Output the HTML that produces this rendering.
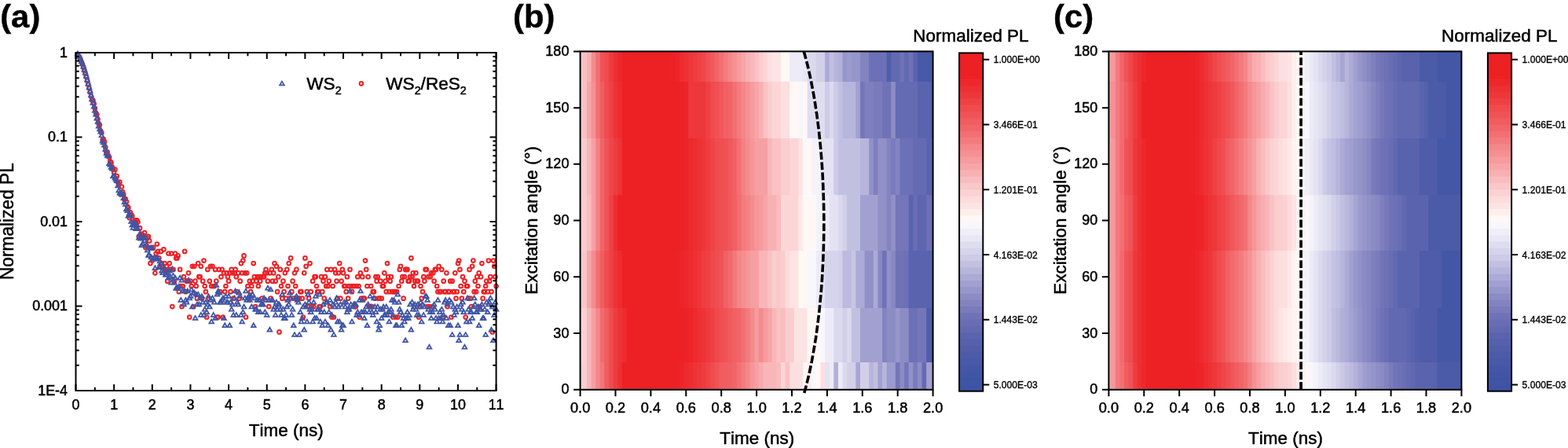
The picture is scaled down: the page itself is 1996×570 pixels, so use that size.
<!DOCTYPE html>
<html lang="en"><head><meta charset="utf-8"><title>Figure</title>
<style>html,body{margin:0;padding:0;background:#fff}body{width:1996px;height:570px;overflow:hidden}svg{display:block}text{font-family:"Liberation Sans", sans-serif;fill:#000;font-kerning:none}</style>
</head><body>
<svg width="1996" height="570" viewBox="0 0 1996 570">
<rect width="1996" height="570" fill="#fff"/>
<g id="panel-a"><g fill="none" stroke="#ed2024" stroke-width="2">
<circle cx="98.9" cy="69.4" r="2.35"/>
<circle cx="100.1" cy="71.3" r="2.35"/>
<circle cx="101.4" cy="73.2" r="2.35"/>
<circle cx="102.6" cy="76.1" r="2.35"/>
<circle cx="103.8" cy="79.1" r="2.35"/>
<circle cx="105.0" cy="82.0" r="2.35"/>
<circle cx="106.2" cy="85.7" r="2.35"/>
<circle cx="107.4" cy="89.7" r="2.35"/>
<circle cx="108.7" cy="93.7" r="2.35"/>
<circle cx="109.9" cy="97.9" r="2.35"/>
<circle cx="111.1" cy="102.7" r="2.35"/>
<circle cx="112.3" cy="107.5" r="2.35"/>
<circle cx="113.5" cy="112.3" r="2.35"/>
<circle cx="114.7" cy="117.2" r="2.35"/>
<circle cx="116.0" cy="122.7" r="2.35"/>
<circle cx="117.2" cy="127.6" r="2.35"/>
<circle cx="118.4" cy="127.7" r="2.35"/>
<circle cx="119.6" cy="131.9" r="2.35"/>
<circle cx="120.8" cy="137.8" r="2.35"/>
<circle cx="122.0" cy="143.6" r="2.35"/>
<circle cx="123.3" cy="145.9" r="2.35"/>
<circle cx="124.5" cy="151.6" r="2.35"/>
<circle cx="125.7" cy="157.4" r="2.35"/>
<circle cx="126.9" cy="159.0" r="2.35"/>
<circle cx="128.1" cy="166.6" r="2.35"/>
<circle cx="129.3" cy="168.9" r="2.35"/>
<circle cx="130.6" cy="178.1" r="2.35"/>
<circle cx="131.8" cy="177.2" r="2.35"/>
<circle cx="133.0" cy="180.4" r="2.35"/>
<circle cx="134.2" cy="187.4" r="2.35"/>
<circle cx="135.4" cy="194.1" r="2.35"/>
<circle cx="136.6" cy="193.3" r="2.35"/>
<circle cx="137.8" cy="197.8" r="2.35"/>
<circle cx="139.1" cy="200.0" r="2.35"/>
<circle cx="140.3" cy="205.3" r="2.35"/>
<circle cx="141.5" cy="206.9" r="2.35"/>
<circle cx="142.7" cy="212.4" r="2.35"/>
<circle cx="143.9" cy="215.6" r="2.35"/>
<circle cx="145.1" cy="219.3" r="2.35"/>
<circle cx="146.4" cy="215.6" r="2.35"/>
<circle cx="147.6" cy="226.8" r="2.35"/>
<circle cx="148.8" cy="224.1" r="2.35"/>
<circle cx="150.0" cy="232.1" r="2.35"/>
<circle cx="151.2" cy="234.9" r="2.35"/>
<circle cx="152.4" cy="231.7" r="2.35"/>
<circle cx="153.7" cy="247.4" r="2.35"/>
<circle cx="154.9" cy="237.5" r="2.35"/>
<circle cx="156.1" cy="244.2" r="2.35"/>
<circle cx="157.3" cy="247.4" r="2.35"/>
<circle cx="158.5" cy="253.9" r="2.35"/>
<circle cx="159.7" cy="253.2" r="2.35"/>
<circle cx="161.0" cy="256.5" r="2.35"/>
<circle cx="162.2" cy="262.9" r="2.35"/>
<circle cx="163.4" cy="264.4" r="2.35"/>
<circle cx="164.6" cy="277.1" r="2.35"/>
<circle cx="165.8" cy="270.3" r="2.35"/>
<circle cx="167.0" cy="273.1" r="2.35"/>
<circle cx="168.3" cy="275.1" r="2.35"/>
<circle cx="169.5" cy="282.6" r="2.35"/>
<circle cx="170.7" cy="286.2" r="2.35"/>
<circle cx="171.9" cy="280.3" r="2.35"/>
<circle cx="173.1" cy="285.0" r="2.35"/>
<circle cx="174.3" cy="280.3" r="2.35"/>
<circle cx="175.5" cy="282.6" r="2.35"/>
<circle cx="176.8" cy="300.9" r="2.35"/>
<circle cx="178.0" cy="290.2" r="2.35"/>
<circle cx="179.2" cy="297.6" r="2.35"/>
<circle cx="180.4" cy="300.9" r="2.35"/>
<circle cx="181.6" cy="299.2" r="2.35"/>
<circle cx="182.8" cy="302.7" r="2.35"/>
<circle cx="184.1" cy="296.0" r="2.35"/>
<circle cx="185.3" cy="314.9" r="2.35"/>
<circle cx="186.5" cy="312.7" r="2.35"/>
<circle cx="187.7" cy="302.7" r="2.35"/>
<circle cx="188.9" cy="300.9" r="2.35"/>
<circle cx="190.1" cy="306.4" r="2.35"/>
<circle cx="191.4" cy="335.1" r="2.35"/>
<circle cx="192.6" cy="314.9" r="2.35"/>
<circle cx="193.8" cy="331.6" r="2.35"/>
<circle cx="195.0" cy="314.9" r="2.35"/>
<circle cx="196.2" cy="328.4" r="2.35"/>
<circle cx="197.4" cy="347.3" r="2.35"/>
<circle cx="198.7" cy="322.5" r="2.35"/>
<circle cx="199.9" cy="310.5" r="2.35"/>
<circle cx="201.1" cy="319.9" r="2.35"/>
<circle cx="202.3" cy="328.4" r="2.35"/>
<circle cx="203.5" cy="338.8" r="2.35"/>
<circle cx="204.7" cy="319.9" r="2.35"/>
<circle cx="206.0" cy="335.1" r="2.35"/>
<circle cx="207.2" cy="338.8" r="2.35"/>
<circle cx="208.4" cy="317.3" r="2.35"/>
<circle cx="209.6" cy="335.1" r="2.35"/>
<circle cx="210.8" cy="342.9" r="2.35"/>
<circle cx="212.0" cy="338.8" r="2.35"/>
<circle cx="213.2" cy="357.7" r="2.35"/>
<circle cx="214.5" cy="322.5" r="2.35"/>
<circle cx="215.7" cy="335.1" r="2.35"/>
<circle cx="216.9" cy="342.9" r="2.35"/>
<circle cx="218.1" cy="322.5" r="2.35"/>
<circle cx="219.3" cy="390.1" r="2.35"/>
<circle cx="220.5" cy="342.9" r="2.35"/>
<circle cx="221.8" cy="357.7" r="2.35"/>
<circle cx="223.0" cy="322.5" r="2.35"/>
<circle cx="224.2" cy="328.4" r="2.35"/>
<circle cx="225.4" cy="328.4" r="2.35"/>
<circle cx="226.6" cy="325.4" r="2.35"/>
<circle cx="227.8" cy="371.2" r="2.35"/>
<circle cx="229.1" cy="342.9" r="2.35"/>
<circle cx="230.3" cy="364.0" r="2.35"/>
<circle cx="231.5" cy="390.1" r="2.35"/>
<circle cx="232.7" cy="364.0" r="2.35"/>
<circle cx="233.9" cy="352.2" r="2.35"/>
<circle cx="235.1" cy="319.9" r="2.35"/>
<circle cx="236.4" cy="371.2" r="2.35"/>
<circle cx="237.6" cy="357.7" r="2.35"/>
<circle cx="238.8" cy="357.7" r="2.35"/>
<circle cx="240.0" cy="347.3" r="2.35"/>
<circle cx="241.2" cy="403.5" r="2.35"/>
<circle cx="242.4" cy="357.7" r="2.35"/>
<circle cx="243.7" cy="364.0" r="2.35"/>
<circle cx="244.9" cy="338.8" r="2.35"/>
<circle cx="246.1" cy="390.1" r="2.35"/>
<circle cx="247.3" cy="338.8" r="2.35"/>
<circle cx="248.5" cy="357.7" r="2.35"/>
<circle cx="249.7" cy="364.0" r="2.35"/>
<circle cx="250.9" cy="379.7" r="2.35"/>
<circle cx="252.2" cy="335.1" r="2.35"/>
<circle cx="253.4" cy="352.2" r="2.35"/>
<circle cx="254.6" cy="352.2" r="2.35"/>
<circle cx="255.8" cy="338.8" r="2.35"/>
<circle cx="257.0" cy="379.7" r="2.35"/>
<circle cx="258.2" cy="357.7" r="2.35"/>
<circle cx="259.5" cy="331.6" r="2.35"/>
<circle cx="260.7" cy="364.0" r="2.35"/>
<circle cx="261.9" cy="371.2" r="2.35"/>
<circle cx="263.1" cy="403.5" r="2.35"/>
<circle cx="264.3" cy="342.9" r="2.35"/>
<circle cx="265.5" cy="379.7" r="2.35"/>
<circle cx="266.8" cy="357.7" r="2.35"/>
<circle cx="268.0" cy="338.8" r="2.35"/>
<circle cx="269.2" cy="364.0" r="2.35"/>
<circle cx="270.4" cy="338.8" r="2.35"/>
<circle cx="271.6" cy="364.0" r="2.35"/>
<circle cx="272.8" cy="364.0" r="2.35"/>
<circle cx="274.1" cy="342.9" r="2.35"/>
<circle cx="275.3" cy="357.7" r="2.35"/>
<circle cx="276.5" cy="403.5" r="2.35"/>
<circle cx="277.7" cy="403.5" r="2.35"/>
<circle cx="278.9" cy="342.9" r="2.35"/>
<circle cx="280.1" cy="371.2" r="2.35"/>
<circle cx="281.4" cy="352.2" r="2.35"/>
<circle cx="282.6" cy="342.9" r="2.35"/>
<circle cx="283.8" cy="403.5" r="2.35"/>
<circle cx="285.0" cy="347.3" r="2.35"/>
<circle cx="286.2" cy="371.2" r="2.35"/>
<circle cx="287.4" cy="364.0" r="2.35"/>
<circle cx="288.6" cy="347.3" r="2.35"/>
<circle cx="289.9" cy="352.2" r="2.35"/>
<circle cx="291.1" cy="357.7" r="2.35"/>
<circle cx="292.3" cy="347.3" r="2.35"/>
<circle cx="293.5" cy="371.2" r="2.35"/>
<circle cx="294.7" cy="342.9" r="2.35"/>
<circle cx="295.9" cy="347.3" r="2.35"/>
<circle cx="297.2" cy="379.7" r="2.35"/>
<circle cx="298.4" cy="347.3" r="2.35"/>
<circle cx="299.6" cy="342.9" r="2.35"/>
<circle cx="300.8" cy="352.2" r="2.35"/>
<circle cx="302.0" cy="371.2" r="2.35"/>
<circle cx="303.2" cy="347.3" r="2.35"/>
<circle cx="304.5" cy="379.7" r="2.35"/>
<circle cx="305.7" cy="357.7" r="2.35"/>
<circle cx="306.9" cy="335.1" r="2.35"/>
<circle cx="308.1" cy="347.3" r="2.35"/>
<circle cx="309.3" cy="331.6" r="2.35"/>
<circle cx="310.5" cy="325.4" r="2.35"/>
<circle cx="311.8" cy="347.3" r="2.35"/>
<circle cx="313.0" cy="403.5" r="2.35"/>
<circle cx="314.2" cy="347.3" r="2.35"/>
<circle cx="315.4" cy="364.0" r="2.35"/>
<circle cx="316.6" cy="379.7" r="2.35"/>
<circle cx="317.8" cy="357.7" r="2.35"/>
<circle cx="319.1" cy="371.2" r="2.35"/>
<circle cx="320.3" cy="364.0" r="2.35"/>
<circle cx="321.5" cy="357.7" r="2.35"/>
<circle cx="322.7" cy="335.1" r="2.35"/>
<circle cx="323.9" cy="352.2" r="2.35"/>
<circle cx="325.1" cy="390.1" r="2.35"/>
<circle cx="326.3" cy="357.7" r="2.35"/>
<circle cx="327.6" cy="352.2" r="2.35"/>
<circle cx="328.8" cy="364.0" r="2.35"/>
<circle cx="330.0" cy="352.2" r="2.35"/>
<circle cx="331.2" cy="357.7" r="2.35"/>
<circle cx="332.4" cy="352.2" r="2.35"/>
<circle cx="333.6" cy="379.7" r="2.35"/>
<circle cx="334.9" cy="352.2" r="2.35"/>
<circle cx="336.1" cy="352.2" r="2.35"/>
<circle cx="337.3" cy="347.3" r="2.35"/>
<circle cx="338.5" cy="342.9" r="2.35"/>
<circle cx="339.7" cy="347.3" r="2.35"/>
<circle cx="340.9" cy="357.7" r="2.35"/>
<circle cx="342.2" cy="390.1" r="2.35"/>
<circle cx="343.4" cy="347.3" r="2.35"/>
<circle cx="344.6" cy="379.7" r="2.35"/>
<circle cx="345.8" cy="342.9" r="2.35"/>
<circle cx="347.0" cy="357.7" r="2.35"/>
<circle cx="348.2" cy="347.3" r="2.35"/>
<circle cx="349.5" cy="335.1" r="2.35"/>
<circle cx="350.7" cy="357.7" r="2.35"/>
<circle cx="351.9" cy="338.8" r="2.35"/>
<circle cx="353.1" cy="371.2" r="2.35"/>
<circle cx="354.3" cy="352.2" r="2.35"/>
<circle cx="355.5" cy="422.4" r="2.35"/>
<circle cx="356.8" cy="342.9" r="2.35"/>
<circle cx="358.0" cy="364.0" r="2.35"/>
<circle cx="359.2" cy="379.7" r="2.35"/>
<circle cx="360.4" cy="357.7" r="2.35"/>
<circle cx="361.6" cy="371.2" r="2.35"/>
<circle cx="362.8" cy="347.3" r="2.35"/>
<circle cx="364.1" cy="379.7" r="2.35"/>
<circle cx="365.3" cy="342.9" r="2.35"/>
<circle cx="366.5" cy="364.0" r="2.35"/>
<circle cx="367.7" cy="335.1" r="2.35"/>
<circle cx="368.9" cy="379.7" r="2.35"/>
<circle cx="370.1" cy="328.4" r="2.35"/>
<circle cx="371.3" cy="371.2" r="2.35"/>
<circle cx="372.6" cy="357.7" r="2.35"/>
<circle cx="373.8" cy="379.7" r="2.35"/>
<circle cx="375.0" cy="347.3" r="2.35"/>
<circle cx="376.2" cy="364.0" r="2.35"/>
<circle cx="377.4" cy="342.9" r="2.35"/>
<circle cx="378.6" cy="379.7" r="2.35"/>
<circle cx="379.9" cy="379.7" r="2.35"/>
<circle cx="381.1" cy="379.7" r="2.35"/>
<circle cx="382.3" cy="371.2" r="2.35"/>
<circle cx="383.5" cy="371.2" r="2.35"/>
<circle cx="384.7" cy="379.7" r="2.35"/>
<circle cx="385.9" cy="403.5" r="2.35"/>
<circle cx="387.2" cy="347.3" r="2.35"/>
<circle cx="388.4" cy="328.4" r="2.35"/>
<circle cx="389.6" cy="338.8" r="2.35"/>
<circle cx="390.8" cy="371.2" r="2.35"/>
<circle cx="392.0" cy="390.1" r="2.35"/>
<circle cx="393.2" cy="379.7" r="2.35"/>
<circle cx="394.5" cy="335.1" r="2.35"/>
<circle cx="395.7" cy="371.2" r="2.35"/>
<circle cx="396.9" cy="390.1" r="2.35"/>
<circle cx="398.1" cy="357.7" r="2.35"/>
<circle cx="399.3" cy="390.1" r="2.35"/>
<circle cx="400.5" cy="352.2" r="2.35"/>
<circle cx="401.8" cy="352.2" r="2.35"/>
<circle cx="403.0" cy="364.0" r="2.35"/>
<circle cx="404.2" cy="371.2" r="2.35"/>
<circle cx="405.4" cy="371.2" r="2.35"/>
<circle cx="406.6" cy="390.1" r="2.35"/>
<circle cx="407.8" cy="390.1" r="2.35"/>
<circle cx="409.0" cy="352.2" r="2.35"/>
<circle cx="410.3" cy="371.2" r="2.35"/>
<circle cx="411.5" cy="357.7" r="2.35"/>
<circle cx="412.7" cy="379.7" r="2.35"/>
<circle cx="413.9" cy="352.2" r="2.35"/>
<circle cx="415.1" cy="364.0" r="2.35"/>
<circle cx="416.3" cy="342.9" r="2.35"/>
<circle cx="417.6" cy="364.0" r="2.35"/>
<circle cx="418.8" cy="357.7" r="2.35"/>
<circle cx="420.0" cy="390.1" r="2.35"/>
<circle cx="421.2" cy="342.9" r="2.35"/>
<circle cx="422.4" cy="403.5" r="2.35"/>
<circle cx="423.6" cy="364.0" r="2.35"/>
<circle cx="424.9" cy="403.5" r="2.35"/>
<circle cx="426.1" cy="342.9" r="2.35"/>
<circle cx="427.3" cy="347.3" r="2.35"/>
<circle cx="428.5" cy="357.7" r="2.35"/>
<circle cx="429.7" cy="379.7" r="2.35"/>
<circle cx="430.9" cy="347.3" r="2.35"/>
<circle cx="432.2" cy="335.1" r="2.35"/>
<circle cx="433.4" cy="379.7" r="2.35"/>
<circle cx="434.6" cy="357.7" r="2.35"/>
<circle cx="435.8" cy="342.9" r="2.35"/>
<circle cx="437.0" cy="347.3" r="2.35"/>
<circle cx="438.2" cy="364.0" r="2.35"/>
<circle cx="439.5" cy="364.0" r="2.35"/>
<circle cx="440.7" cy="371.2" r="2.35"/>
<circle cx="441.9" cy="352.2" r="2.35"/>
<circle cx="443.1" cy="379.7" r="2.35"/>
<circle cx="444.3" cy="364.0" r="2.35"/>
<circle cx="445.5" cy="342.9" r="2.35"/>
<circle cx="446.7" cy="364.0" r="2.35"/>
<circle cx="448.0" cy="371.2" r="2.35"/>
<circle cx="449.2" cy="364.0" r="2.35"/>
<circle cx="450.4" cy="364.0" r="2.35"/>
<circle cx="451.6" cy="390.1" r="2.35"/>
<circle cx="452.8" cy="390.1" r="2.35"/>
<circle cx="454.0" cy="364.0" r="2.35"/>
<circle cx="455.3" cy="352.2" r="2.35"/>
<circle cx="456.5" cy="364.0" r="2.35"/>
<circle cx="457.7" cy="403.5" r="2.35"/>
<circle cx="458.9" cy="347.3" r="2.35"/>
<circle cx="460.1" cy="379.7" r="2.35"/>
<circle cx="461.3" cy="352.2" r="2.35"/>
<circle cx="462.6" cy="379.7" r="2.35"/>
<circle cx="463.8" cy="379.7" r="2.35"/>
<circle cx="465.0" cy="331.6" r="2.35"/>
<circle cx="466.2" cy="342.9" r="2.35"/>
<circle cx="467.4" cy="364.0" r="2.35"/>
<circle cx="468.6" cy="352.2" r="2.35"/>
<circle cx="469.9" cy="390.1" r="2.35"/>
<circle cx="471.1" cy="390.1" r="2.35"/>
<circle cx="472.3" cy="364.0" r="2.35"/>
<circle cx="473.5" cy="390.1" r="2.35"/>
<circle cx="474.7" cy="371.2" r="2.35"/>
<circle cx="475.9" cy="371.2" r="2.35"/>
<circle cx="477.2" cy="379.7" r="2.35"/>
<circle cx="478.4" cy="352.2" r="2.35"/>
<circle cx="479.6" cy="357.7" r="2.35"/>
<circle cx="480.8" cy="352.2" r="2.35"/>
<circle cx="482.0" cy="379.7" r="2.35"/>
<circle cx="483.2" cy="379.7" r="2.35"/>
<circle cx="484.4" cy="357.7" r="2.35"/>
<circle cx="485.7" cy="379.7" r="2.35"/>
<circle cx="486.9" cy="364.0" r="2.35"/>
<circle cx="488.1" cy="364.0" r="2.35"/>
<circle cx="489.3" cy="347.3" r="2.35"/>
<circle cx="490.5" cy="357.7" r="2.35"/>
<circle cx="491.7" cy="371.2" r="2.35"/>
<circle cx="493.0" cy="335.1" r="2.35"/>
<circle cx="494.2" cy="352.2" r="2.35"/>
<circle cx="495.4" cy="371.2" r="2.35"/>
<circle cx="496.6" cy="357.7" r="2.35"/>
<circle cx="497.8" cy="352.2" r="2.35"/>
<circle cx="499.0" cy="371.2" r="2.35"/>
<circle cx="500.3" cy="403.5" r="2.35"/>
<circle cx="501.5" cy="371.2" r="2.35"/>
<circle cx="502.7" cy="371.2" r="2.35"/>
<circle cx="503.9" cy="403.5" r="2.35"/>
<circle cx="505.1" cy="371.2" r="2.35"/>
<circle cx="506.3" cy="403.5" r="2.35"/>
<circle cx="507.6" cy="364.0" r="2.35"/>
<circle cx="508.8" cy="342.9" r="2.35"/>
<circle cx="510.0" cy="338.8" r="2.35"/>
<circle cx="511.2" cy="357.7" r="2.35"/>
<circle cx="512.4" cy="352.2" r="2.35"/>
<circle cx="513.6" cy="379.7" r="2.35"/>
<circle cx="514.9" cy="352.2" r="2.35"/>
<circle cx="516.1" cy="342.9" r="2.35"/>
<circle cx="517.3" cy="342.9" r="2.35"/>
<circle cx="518.5" cy="342.9" r="2.35"/>
<circle cx="519.7" cy="357.7" r="2.35"/>
<circle cx="520.9" cy="357.7" r="2.35"/>
<circle cx="522.1" cy="352.2" r="2.35"/>
<circle cx="523.4" cy="328.4" r="2.35"/>
<circle cx="524.6" cy="352.2" r="2.35"/>
<circle cx="525.8" cy="347.3" r="2.35"/>
<circle cx="527.0" cy="364.0" r="2.35"/>
<circle cx="528.2" cy="357.7" r="2.35"/>
<circle cx="529.4" cy="347.3" r="2.35"/>
<circle cx="530.7" cy="357.7" r="2.35"/>
<circle cx="531.9" cy="357.7" r="2.35"/>
<circle cx="533.1" cy="403.5" r="2.35"/>
<circle cx="534.3" cy="390.1" r="2.35"/>
<circle cx="535.5" cy="364.0" r="2.35"/>
<circle cx="536.7" cy="379.7" r="2.35"/>
<circle cx="538.0" cy="371.2" r="2.35"/>
<circle cx="539.2" cy="352.2" r="2.35"/>
<circle cx="540.4" cy="357.7" r="2.35"/>
<circle cx="541.6" cy="342.9" r="2.35"/>
<circle cx="542.8" cy="342.9" r="2.35"/>
<circle cx="544.0" cy="390.1" r="2.35"/>
<circle cx="545.3" cy="352.2" r="2.35"/>
<circle cx="546.5" cy="390.1" r="2.35"/>
<circle cx="547.7" cy="352.2" r="2.35"/>
<circle cx="548.9" cy="347.3" r="2.35"/>
<circle cx="550.1" cy="390.1" r="2.35"/>
<circle cx="551.3" cy="347.3" r="2.35"/>
<circle cx="552.6" cy="357.7" r="2.35"/>
<circle cx="553.8" cy="342.9" r="2.35"/>
<circle cx="555.0" cy="342.9" r="2.35"/>
<circle cx="556.2" cy="364.0" r="2.35"/>
<circle cx="557.4" cy="371.2" r="2.35"/>
<circle cx="558.6" cy="338.8" r="2.35"/>
<circle cx="559.8" cy="371.2" r="2.35"/>
<circle cx="561.1" cy="371.2" r="2.35"/>
<circle cx="562.3" cy="342.9" r="2.35"/>
<circle cx="563.5" cy="403.5" r="2.35"/>
<circle cx="564.7" cy="357.7" r="2.35"/>
<circle cx="565.9" cy="371.2" r="2.35"/>
<circle cx="567.1" cy="371.2" r="2.35"/>
<circle cx="568.4" cy="347.3" r="2.35"/>
<circle cx="569.6" cy="390.1" r="2.35"/>
<circle cx="570.8" cy="371.2" r="2.35"/>
<circle cx="572.0" cy="371.2" r="2.35"/>
<circle cx="573.2" cy="357.7" r="2.35"/>
<circle cx="574.4" cy="403.5" r="2.35"/>
<circle cx="575.7" cy="357.7" r="2.35"/>
<circle cx="576.9" cy="371.2" r="2.35"/>
<circle cx="578.1" cy="371.2" r="2.35"/>
<circle cx="579.3" cy="347.3" r="2.35"/>
<circle cx="580.5" cy="379.7" r="2.35"/>
<circle cx="581.7" cy="371.2" r="2.35"/>
<circle cx="583.0" cy="335.1" r="2.35"/>
<circle cx="584.2" cy="331.6" r="2.35"/>
<circle cx="585.4" cy="342.9" r="2.35"/>
<circle cx="586.6" cy="364.0" r="2.35"/>
<circle cx="587.8" cy="379.7" r="2.35"/>
<circle cx="589.0" cy="352.2" r="2.35"/>
<circle cx="590.3" cy="371.2" r="2.35"/>
<circle cx="591.5" cy="357.7" r="2.35"/>
<circle cx="592.7" cy="403.5" r="2.35"/>
<circle cx="593.9" cy="364.0" r="2.35"/>
<circle cx="595.1" cy="364.0" r="2.35"/>
<circle cx="596.3" cy="379.7" r="2.35"/>
<circle cx="597.5" cy="342.9" r="2.35"/>
<circle cx="598.8" cy="379.7" r="2.35"/>
<circle cx="600.0" cy="390.1" r="2.35"/>
<circle cx="601.2" cy="338.8" r="2.35"/>
<circle cx="602.4" cy="331.6" r="2.35"/>
<circle cx="603.6" cy="371.2" r="2.35"/>
<circle cx="604.8" cy="357.7" r="2.35"/>
<circle cx="606.1" cy="371.2" r="2.35"/>
<circle cx="607.3" cy="352.2" r="2.35"/>
<circle cx="608.5" cy="364.0" r="2.35"/>
<circle cx="609.7" cy="347.3" r="2.35"/>
<circle cx="610.9" cy="390.1" r="2.35"/>
<circle cx="612.1" cy="352.2" r="2.35"/>
<circle cx="613.4" cy="335.1" r="2.35"/>
<circle cx="614.6" cy="379.7" r="2.35"/>
<circle cx="615.8" cy="371.2" r="2.35"/>
<circle cx="617.0" cy="371.2" r="2.35"/>
<circle cx="618.2" cy="364.0" r="2.35"/>
<circle cx="619.4" cy="357.7" r="2.35"/>
<circle cx="620.7" cy="371.2" r="2.35"/>
<circle cx="621.9" cy="331.6" r="2.35"/>
<circle cx="623.1" cy="357.7" r="2.35"/>
<circle cx="624.3" cy="352.2" r="2.35"/>
<circle cx="625.5" cy="371.2" r="2.35"/>
<circle cx="626.7" cy="422.4" r="2.35"/>
<circle cx="628.0" cy="331.6" r="2.35"/>
<circle cx="629.2" cy="338.8" r="2.35"/>
<circle cx="630.4" cy="352.2" r="2.35"/>
<circle cx="631.6" cy="364.0" r="2.35"/>
</g>
<g fill="none" stroke="#3f55a5" stroke-width="1.75">
<path d="M98.9 65.5L101.8 70.4L96.1 70.4Z"/>
<path d="M100.1 67.4L103.0 72.3L97.3 72.3Z"/>
<path d="M101.4 69.3L104.2 74.1L98.5 74.1Z"/>
<path d="M102.6 72.2L105.4 77.1L99.7 77.1Z"/>
<path d="M103.8 75.2L106.6 80.0L100.9 80.0Z"/>
<path d="M105.0 78.1L107.9 83.0L102.2 83.0Z"/>
<path d="M106.2 81.8L109.1 86.7L103.4 86.7Z"/>
<path d="M107.4 85.8L110.3 90.7L104.6 90.7Z"/>
<path d="M108.7 89.8L111.5 94.7L105.8 94.7Z"/>
<path d="M109.9 94.0L112.7 98.9L107.0 98.9Z"/>
<path d="M111.1 98.8L113.9 103.7L108.2 103.7Z"/>
<path d="M112.3 103.7L115.2 108.5L109.5 108.5Z"/>
<path d="M113.5 108.5L116.4 113.4L110.7 113.4Z"/>
<path d="M114.7 113.4L117.6 118.2L111.9 118.2Z"/>
<path d="M116.0 118.3L118.8 123.1L113.1 123.1Z"/>
<path d="M117.2 123.2L120.0 128.0L114.3 128.0Z"/>
<path d="M118.4 128.0L121.2 132.9L115.5 132.9Z"/>
<path d="M119.6 132.9L122.5 137.7L116.8 137.7Z"/>
<path d="M120.8 137.7L123.7 142.6L118.0 142.6Z"/>
<path d="M122.0 142.8L124.9 147.6L119.2 147.6Z"/>
<path d="M123.3 147.7L126.1 152.6L120.4 152.6Z"/>
<path d="M124.5 152.1L127.3 156.9L121.6 156.9Z"/>
<path d="M125.7 157.8L128.5 162.6L122.8 162.6Z"/>
<path d="M126.9 161.5L129.8 166.3L124.1 166.3Z"/>
<path d="M128.1 164.9L131.0 169.7L125.3 169.7Z"/>
<path d="M129.3 169.6L132.2 174.4L126.5 174.4Z"/>
<path d="M130.6 176.6L133.4 181.4L127.7 181.4Z"/>
<path d="M131.8 178.5L134.6 183.4L128.9 183.4Z"/>
<path d="M133.0 181.8L135.8 186.7L130.1 186.7Z"/>
<path d="M134.2 187.3L137.1 192.1L131.4 192.1Z"/>
<path d="M135.4 192.2L138.3 197.1L132.6 197.1Z"/>
<path d="M136.6 194.7L139.5 199.5L133.8 199.5Z"/>
<path d="M137.8 195.7L140.7 200.5L135.0 200.5Z"/>
<path d="M139.1 205.1L141.9 210.0L136.2 210.0Z"/>
<path d="M140.3 206.8L143.1 211.7L137.4 211.7Z"/>
<path d="M141.5 209.9L144.3 214.8L138.6 214.8Z"/>
<path d="M142.7 211.7L145.6 216.5L139.9 216.5Z"/>
<path d="M143.9 221.3L146.8 226.2L141.1 226.2Z"/>
<path d="M145.1 220.9L148.0 225.7L142.3 225.7Z"/>
<path d="M146.4 223.4L149.2 228.3L143.5 228.3Z"/>
<path d="M147.6 225.6L150.4 230.4L144.7 230.4Z"/>
<path d="M148.8 227.4L151.6 232.2L145.9 232.2Z"/>
<path d="M150.0 233.5L152.9 238.4L147.2 238.4Z"/>
<path d="M151.2 239.5L154.1 244.4L148.4 244.4Z"/>
<path d="M152.4 242.5L155.3 247.3L149.6 247.3Z"/>
<path d="M153.7 243.2L156.5 248.0L150.8 248.0Z"/>
<path d="M154.9 242.9L157.7 247.8L152.0 247.8Z"/>
<path d="M156.1 244.2L158.9 249.0L153.2 249.0Z"/>
<path d="M157.3 249.2L160.2 254.1L154.5 254.1Z"/>
<path d="M158.5 254.1L161.4 259.0L155.7 259.0Z"/>
<path d="M159.7 257.1L162.6 261.9L156.9 261.9Z"/>
<path d="M161.0 263.2L163.8 268.0L158.1 268.0Z"/>
<path d="M162.2 265.2L165.0 270.0L159.3 270.0Z"/>
<path d="M163.4 271.7L166.2 276.6L160.5 276.6Z"/>
<path d="M164.6 268.7L167.5 273.6L161.8 273.6Z"/>
<path d="M165.8 271.5L168.7 276.3L163.0 276.3Z"/>
<path d="M167.0 279.1L169.9 283.9L164.2 283.9Z"/>
<path d="M168.3 283.6L171.1 288.4L165.4 288.4Z"/>
<path d="M169.5 287.0L172.3 291.9L166.6 291.9Z"/>
<path d="M170.7 283.2L173.5 288.1L167.8 288.1Z"/>
<path d="M171.9 280.6L174.8 285.5L169.1 285.5Z"/>
<path d="M173.1 288.1L176.0 293.0L170.3 293.0Z"/>
<path d="M174.3 283.9L177.2 288.7L171.5 288.7Z"/>
<path d="M175.5 288.1L178.4 293.0L172.7 293.0Z"/>
<path d="M176.8 299.9L179.6 304.7L173.9 304.7Z"/>
<path d="M178.0 295.3L180.8 300.2L175.1 300.2Z"/>
<path d="M179.2 300.8L182.0 305.7L176.3 305.7Z"/>
<path d="M180.4 309.3L183.3 314.2L177.6 314.2Z"/>
<path d="M181.6 307.1L184.5 311.9L178.8 311.9Z"/>
<path d="M182.8 298.9L185.7 303.8L180.0 303.8Z"/>
<path d="M184.1 303.3L186.9 308.2L181.2 308.2Z"/>
<path d="M185.3 298.9L188.1 303.8L182.4 303.8Z"/>
<path d="M186.5 309.3L189.3 314.2L183.6 314.2Z"/>
<path d="M187.7 315.6L190.6 320.4L184.9 320.4Z"/>
<path d="M188.9 322.0L191.8 326.9L186.1 326.9Z"/>
<path d="M190.1 322.0L193.0 326.9L187.3 326.9Z"/>
<path d="M191.4 313.0L194.2 317.8L188.5 317.8Z"/>
<path d="M192.6 324.4L195.4 329.2L189.7 329.2Z"/>
<path d="M193.8 313.0L196.6 317.8L190.9 317.8Z"/>
<path d="M195.0 326.8L197.9 331.7L192.2 331.7Z"/>
<path d="M196.2 325.2L199.1 330.0L193.4 330.0Z"/>
<path d="M197.4 338.3L200.3 343.2L194.6 343.2Z"/>
<path d="M198.7 326.0L201.5 330.8L195.8 330.8Z"/>
<path d="M199.9 326.0L202.7 330.8L197.0 330.8Z"/>
<path d="M201.1 326.8L203.9 331.7L198.2 331.7Z"/>
<path d="M202.3 337.3L205.2 342.1L199.5 342.1Z"/>
<path d="M203.5 329.5L206.4 334.3L200.7 334.3Z"/>
<path d="M204.7 332.2L207.6 337.1L201.9 337.1Z"/>
<path d="M206.0 341.7L208.8 346.6L203.1 346.6Z"/>
<path d="M207.2 344.1L210.0 349.0L204.3 349.0Z"/>
<path d="M208.4 338.3L211.2 343.2L205.5 343.2Z"/>
<path d="M209.6 341.7L212.5 346.6L206.8 346.6Z"/>
<path d="M210.8 346.6L213.7 351.5L208.0 351.5Z"/>
<path d="M212.0 346.6L214.9 351.5L209.2 351.5Z"/>
<path d="M213.2 344.1L216.1 349.0L210.4 349.0Z"/>
<path d="M214.5 350.7L217.3 355.5L211.6 355.5Z"/>
<path d="M215.7 341.7L218.5 346.6L212.8 346.6Z"/>
<path d="M216.9 349.3L219.7 354.1L214.0 354.1Z"/>
<path d="M218.1 356.7L221.0 361.6L215.3 361.6Z"/>
<path d="M219.3 339.4L222.2 344.3L216.5 344.3Z"/>
<path d="M220.5 347.9L223.4 352.8L217.7 352.8Z"/>
<path d="M221.8 356.7L224.6 361.6L218.9 361.6Z"/>
<path d="M223.0 350.7L225.8 355.5L220.1 355.5Z"/>
<path d="M224.2 363.7L227.0 368.5L221.3 368.5Z"/>
<path d="M225.4 363.7L228.3 368.5L222.6 368.5Z"/>
<path d="M226.6 363.7L229.5 368.5L223.8 368.5Z"/>
<path d="M227.8 361.8L230.7 366.7L225.0 366.7Z"/>
<path d="M229.1 350.7L231.9 355.5L226.2 355.5Z"/>
<path d="M230.3 379.0L233.1 383.8L227.4 383.8Z"/>
<path d="M231.5 353.6L234.3 358.5L228.6 358.5Z"/>
<path d="M232.7 367.5L235.6 372.4L229.9 372.4Z"/>
<path d="M233.9 384.5L236.8 389.3L231.1 389.3Z"/>
<path d="M235.1 367.5L238.0 372.4L232.3 372.4Z"/>
<path d="M236.4 379.0L239.2 383.8L233.5 383.8Z"/>
<path d="M237.6 381.7L240.4 386.5L234.7 386.5Z"/>
<path d="M238.8 367.5L241.6 372.4L235.9 372.4Z"/>
<path d="M240.0 353.6L242.9 358.5L237.2 358.5Z"/>
<path d="M241.2 376.5L244.1 381.3L238.4 381.3Z"/>
<path d="M242.4 374.1L245.3 378.9L239.6 378.9Z"/>
<path d="M243.7 365.6L246.5 370.4L240.8 370.4Z"/>
<path d="M244.9 387.5L247.7 392.4L242.0 392.4Z"/>
<path d="M246.1 369.6L248.9 374.5L243.2 374.5Z"/>
<path d="M247.3 369.6L250.2 374.5L244.5 374.5Z"/>
<path d="M248.5 402.0L251.4 406.8L245.7 406.8Z"/>
<path d="M249.7 371.8L252.6 376.6L246.9 376.6Z"/>
<path d="M250.9 384.5L253.8 389.3L248.1 389.3Z"/>
<path d="M252.2 371.8L255.0 376.6L249.3 376.6Z"/>
<path d="M253.4 384.5L256.2 389.3L250.5 389.3Z"/>
<path d="M254.6 376.5L257.4 381.3L251.7 381.3Z"/>
<path d="M255.8 397.9L258.7 402.8L253.0 402.8Z"/>
<path d="M257.0 374.1L259.9 378.9L254.2 378.9Z"/>
<path d="M258.2 381.7L261.1 386.5L255.4 386.5Z"/>
<path d="M259.5 397.9L262.3 402.8L256.6 402.8Z"/>
<path d="M260.7 390.7L263.5 395.6L257.8 395.6Z"/>
<path d="M261.9 381.7L264.7 386.5L259.0 386.5Z"/>
<path d="M263.1 394.2L266.0 399.0L260.3 399.0Z"/>
<path d="M264.3 384.5L267.2 389.3L261.5 389.3Z"/>
<path d="M265.5 374.1L268.4 378.9L262.7 378.9Z"/>
<path d="M266.8 387.5L269.6 392.4L263.9 392.4Z"/>
<path d="M268.0 379.0L270.8 383.8L265.1 383.8Z"/>
<path d="M269.2 406.4L272.0 411.3L266.3 411.3Z"/>
<path d="M270.4 376.5L273.3 381.3L267.6 381.3Z"/>
<path d="M271.6 397.9L274.5 402.8L268.8 402.8Z"/>
<path d="M272.8 381.7L275.7 386.5L270.0 386.5Z"/>
<path d="M274.1 402.0L276.9 406.8L271.2 406.8Z"/>
<path d="M275.3 360.1L278.1 364.9L272.4 364.9Z"/>
<path d="M276.5 371.8L279.3 376.6L273.6 376.6Z"/>
<path d="M277.7 367.5L280.6 372.4L274.9 372.4Z"/>
<path d="M278.9 369.6L281.8 374.5L276.1 374.5Z"/>
<path d="M280.1 381.7L283.0 386.5L277.3 386.5Z"/>
<path d="M281.4 381.7L284.2 386.5L278.5 386.5Z"/>
<path d="M282.6 379.0L285.4 383.8L279.7 383.8Z"/>
<path d="M283.8 376.5L286.6 381.3L280.9 381.3Z"/>
<path d="M285.0 402.0L287.9 406.8L282.2 406.8Z"/>
<path d="M286.2 411.3L289.1 416.2L283.4 416.2Z"/>
<path d="M287.4 374.1L290.3 378.9L284.6 378.9Z"/>
<path d="M288.6 381.7L291.5 386.5L285.8 386.5Z"/>
<path d="M289.9 381.7L292.7 386.5L287.0 386.5Z"/>
<path d="M291.1 374.1L293.9 378.9L288.2 378.9Z"/>
<path d="M292.3 411.3L295.1 416.2L289.4 416.2Z"/>
<path d="M293.5 381.7L296.4 386.5L290.7 386.5Z"/>
<path d="M294.7 390.7L297.6 395.6L291.9 395.6Z"/>
<path d="M295.9 384.5L298.8 389.3L293.1 389.3Z"/>
<path d="M297.2 397.9L300.0 402.8L294.3 402.8Z"/>
<path d="M298.4 376.5L301.2 381.3L295.5 381.3Z"/>
<path d="M299.6 367.5L302.4 372.4L296.7 372.4Z"/>
<path d="M300.8 397.9L303.7 402.8L298.0 402.8Z"/>
<path d="M302.0 381.7L304.9 386.5L299.2 386.5Z"/>
<path d="M303.2 384.5L306.1 389.3L300.4 389.3Z"/>
<path d="M304.5 369.6L307.3 374.5L301.6 374.5Z"/>
<path d="M305.7 374.1L308.5 378.9L302.8 378.9Z"/>
<path d="M306.9 397.9L309.7 402.8L304.0 402.8Z"/>
<path d="M308.1 406.4L311.0 411.3L305.3 411.3Z"/>
<path d="M309.3 394.2L312.2 399.0L306.5 399.0Z"/>
<path d="M310.5 387.5L313.4 392.4L307.7 392.4Z"/>
<path d="M311.8 376.5L314.6 381.3L308.9 381.3Z"/>
<path d="M313.0 367.5L315.8 372.4L310.1 372.4Z"/>
<path d="M314.2 379.0L317.0 383.8L311.3 383.8Z"/>
<path d="M315.4 376.5L318.3 381.3L312.6 381.3Z"/>
<path d="M316.6 374.1L319.5 378.9L313.8 378.9Z"/>
<path d="M317.8 379.0L320.7 383.8L315.0 383.8Z"/>
<path d="M319.1 374.1L321.9 378.9L316.2 378.9Z"/>
<path d="M320.3 387.5L323.1 392.4L317.4 392.4Z"/>
<path d="M321.5 371.8L324.3 376.6L318.6 376.6Z"/>
<path d="M322.7 411.3L325.6 416.2L319.9 416.2Z"/>
<path d="M323.9 376.5L326.8 381.3L321.1 381.3Z"/>
<path d="M325.1 390.7L328.0 395.6L322.3 395.6Z"/>
<path d="M326.3 390.7L329.2 395.6L323.5 395.6Z"/>
<path d="M327.6 379.0L330.4 383.8L324.7 383.8Z"/>
<path d="M328.8 394.2L331.6 399.0L325.9 399.0Z"/>
<path d="M330.0 379.0L332.8 383.8L327.1 383.8Z"/>
<path d="M331.2 394.2L334.1 399.0L328.4 399.0Z"/>
<path d="M332.4 384.5L335.3 389.3L329.6 389.3Z"/>
<path d="M333.6 384.5L336.5 389.3L330.8 389.3Z"/>
<path d="M334.9 384.5L337.7 389.3L332.0 389.3Z"/>
<path d="M336.1 376.5L338.9 381.3L333.2 381.3Z"/>
<path d="M337.3 394.2L340.1 399.0L334.4 399.0Z"/>
<path d="M338.5 379.0L341.4 383.8L335.7 383.8Z"/>
<path d="M339.7 397.9L342.6 402.8L336.9 402.8Z"/>
<path d="M340.9 363.7L343.8 368.5L338.1 368.5Z"/>
<path d="M342.2 379.0L345.0 383.8L339.3 383.8Z"/>
<path d="M343.4 416.8L346.2 421.7L340.5 421.7Z"/>
<path d="M344.6 365.6L347.4 370.4L341.7 370.4Z"/>
<path d="M345.8 379.0L348.7 383.8L343.0 383.8Z"/>
<path d="M347.0 379.0L349.9 383.8L344.2 383.8Z"/>
<path d="M348.2 390.7L351.1 395.6L345.4 395.6Z"/>
<path d="M349.5 387.5L352.3 392.4L346.6 392.4Z"/>
<path d="M350.7 397.9L353.5 402.8L347.8 402.8Z"/>
<path d="M351.9 381.7L354.7 386.5L349.0 386.5Z"/>
<path d="M353.1 390.7L356.0 395.6L350.3 395.6Z"/>
<path d="M354.3 384.5L357.2 389.3L351.5 389.3Z"/>
<path d="M355.5 384.5L358.4 389.3L352.7 389.3Z"/>
<path d="M356.8 390.7L359.6 395.6L353.9 395.6Z"/>
<path d="M358.0 397.9L360.8 402.8L355.1 402.8Z"/>
<path d="M359.2 371.8L362.0 376.6L356.3 376.6Z"/>
<path d="M360.4 390.7L363.3 395.6L357.6 395.6Z"/>
<path d="M361.6 402.0L364.5 406.8L358.8 406.8Z"/>
<path d="M362.8 402.0L365.7 406.8L360.0 406.8Z"/>
<path d="M364.1 397.9L366.9 402.8L361.2 402.8Z"/>
<path d="M365.3 387.5L368.1 392.4L362.4 392.4Z"/>
<path d="M366.5 379.0L369.3 383.8L363.6 383.8Z"/>
<path d="M367.7 384.5L370.5 389.3L364.8 389.3Z"/>
<path d="M368.9 369.6L371.8 374.5L366.1 374.5Z"/>
<path d="M370.1 376.5L373.0 381.3L367.3 381.3Z"/>
<path d="M371.3 397.9L374.2 402.8L368.5 402.8Z"/>
<path d="M372.6 390.7L375.4 395.6L369.7 395.6Z"/>
<path d="M373.8 411.3L376.6 416.2L370.9 416.2Z"/>
<path d="M375.0 423.1L377.8 427.9L372.1 427.9Z"/>
<path d="M376.2 376.5L379.1 381.3L373.4 381.3Z"/>
<path d="M377.4 374.1L380.3 378.9L374.6 378.9Z"/>
<path d="M378.6 379.0L381.5 383.8L375.8 383.8Z"/>
<path d="M379.9 381.7L382.7 386.5L377.0 386.5Z"/>
<path d="M381.1 423.1L383.9 427.9L378.2 427.9Z"/>
<path d="M382.3 394.2L385.1 399.0L379.4 399.0Z"/>
<path d="M383.5 406.4L386.4 411.3L380.7 411.3Z"/>
<path d="M384.7 402.0L387.6 406.8L381.9 406.8Z"/>
<path d="M385.9 387.5L388.8 392.4L383.1 392.4Z"/>
<path d="M387.2 416.8L390.0 421.7L384.3 421.7Z"/>
<path d="M388.4 384.5L391.2 389.3L385.5 389.3Z"/>
<path d="M389.6 387.5L392.4 392.4L386.7 392.4Z"/>
<path d="M390.8 406.4L393.7 411.3L388.0 411.3Z"/>
<path d="M392.0 371.8L394.9 376.6L389.2 376.6Z"/>
<path d="M393.2 381.7L396.1 386.5L390.4 386.5Z"/>
<path d="M394.5 390.7L397.3 395.6L391.6 395.6Z"/>
<path d="M395.7 394.2L398.5 399.0L392.8 399.0Z"/>
<path d="M396.9 390.7L399.7 395.6L394.0 395.6Z"/>
<path d="M398.1 406.4L401.0 411.3L395.3 411.3Z"/>
<path d="M399.3 381.7L402.2 386.5L396.5 386.5Z"/>
<path d="M400.5 402.0L403.4 406.8L397.7 406.8Z"/>
<path d="M401.8 374.1L404.6 378.9L398.9 378.9Z"/>
<path d="M403.0 402.0L405.8 406.8L400.1 406.8Z"/>
<path d="M404.2 390.7L407.0 395.6L401.3 395.6Z"/>
<path d="M405.4 390.7L408.2 395.6L402.5 395.6Z"/>
<path d="M406.6 371.8L409.5 376.6L403.8 376.6Z"/>
<path d="M407.8 406.4L410.7 411.3L405.0 411.3Z"/>
<path d="M409.0 394.2L411.9 399.0L406.2 399.0Z"/>
<path d="M410.3 411.3L413.1 416.2L407.4 416.2Z"/>
<path d="M411.5 384.5L414.3 389.3L408.6 389.3Z"/>
<path d="M412.7 394.2L415.5 399.0L409.8 399.0Z"/>
<path d="M413.9 406.4L416.8 411.3L411.1 411.3Z"/>
<path d="M415.1 381.7L418.0 386.5L412.3 386.5Z"/>
<path d="M416.3 381.7L419.2 386.5L413.5 386.5Z"/>
<path d="M417.6 411.3L420.4 416.2L414.7 416.2Z"/>
<path d="M418.8 394.2L421.6 399.0L415.9 399.0Z"/>
<path d="M420.0 379.0L422.8 383.8L417.1 383.8Z"/>
<path d="M421.2 416.8L424.1 421.7L418.4 421.7Z"/>
<path d="M422.4 397.9L425.3 402.8L419.6 402.8Z"/>
<path d="M423.6 384.5L426.5 389.3L420.8 389.3Z"/>
<path d="M424.9 423.1L427.7 427.9L422.0 427.9Z"/>
<path d="M426.1 387.5L428.9 392.4L423.2 392.4Z"/>
<path d="M427.3 381.7L430.1 386.5L424.4 386.5Z"/>
<path d="M428.5 376.5L431.4 381.3L425.7 381.3Z"/>
<path d="M429.7 406.4L432.6 411.3L426.9 411.3Z"/>
<path d="M430.9 387.5L433.8 392.4L428.1 392.4Z"/>
<path d="M432.2 406.4L435.0 411.3L429.3 411.3Z"/>
<path d="M433.4 384.5L436.2 389.3L430.5 389.3Z"/>
<path d="M434.6 416.8L437.4 421.7L431.7 421.7Z"/>
<path d="M435.8 411.3L438.7 416.2L433.0 416.2Z"/>
<path d="M437.0 411.3L439.9 416.2L434.2 416.2Z"/>
<path d="M438.2 381.7L441.1 386.5L435.4 386.5Z"/>
<path d="M439.5 387.5L442.3 392.4L436.6 392.4Z"/>
<path d="M440.7 381.7L443.5 386.5L437.8 386.5Z"/>
<path d="M441.9 394.2L444.7 399.0L439.0 399.0Z"/>
<path d="M443.1 390.7L445.9 395.6L440.2 395.6Z"/>
<path d="M444.3 390.7L447.2 395.6L441.5 395.6Z"/>
<path d="M445.5 367.5L448.4 372.4L442.7 372.4Z"/>
<path d="M446.7 384.5L449.6 389.3L443.9 389.3Z"/>
<path d="M448.0 406.4L450.8 411.3L445.1 411.3Z"/>
<path d="M449.2 387.5L452.0 392.4L446.3 392.4Z"/>
<path d="M450.4 384.5L453.2 389.3L447.5 389.3Z"/>
<path d="M451.6 384.5L454.5 389.3L448.8 389.3Z"/>
<path d="M452.8 384.5L455.7 389.3L450.0 389.3Z"/>
<path d="M454.0 397.9L456.9 402.8L451.2 402.8Z"/>
<path d="M455.3 394.2L458.1 399.0L452.4 399.0Z"/>
<path d="M456.5 397.9L459.3 402.8L453.6 402.8Z"/>
<path d="M457.7 379.0L460.5 383.8L454.8 383.8Z"/>
<path d="M458.9 367.5L461.8 372.4L456.1 372.4Z"/>
<path d="M460.1 394.2L463.0 399.0L457.3 399.0Z"/>
<path d="M461.3 379.0L464.2 383.8L458.5 383.8Z"/>
<path d="M462.6 394.2L465.4 399.0L459.7 399.0Z"/>
<path d="M463.8 402.0L466.6 406.8L460.9 406.8Z"/>
<path d="M465.0 394.2L467.8 399.0L462.1 399.0Z"/>
<path d="M466.2 387.5L469.1 392.4L463.4 392.4Z"/>
<path d="M467.4 411.3L470.3 416.2L464.6 416.2Z"/>
<path d="M468.6 384.5L471.5 389.3L465.8 389.3Z"/>
<path d="M469.9 394.2L472.7 399.0L467.0 399.0Z"/>
<path d="M471.1 374.1L473.9 378.9L468.2 378.9Z"/>
<path d="M472.3 387.5L475.1 392.4L469.4 392.4Z"/>
<path d="M473.5 394.2L476.4 399.0L470.7 399.0Z"/>
<path d="M474.7 397.9L477.6 402.8L471.9 402.8Z"/>
<path d="M475.9 376.5L478.8 381.3L473.1 381.3Z"/>
<path d="M477.2 387.5L480.0 392.4L474.3 392.4Z"/>
<path d="M478.4 394.2L481.2 399.0L475.5 399.0Z"/>
<path d="M479.6 406.4L482.4 411.3L476.7 411.3Z"/>
<path d="M480.8 387.5L483.6 392.4L477.9 392.4Z"/>
<path d="M482.0 416.8L484.9 421.7L479.2 421.7Z"/>
<path d="M483.2 411.3L486.1 416.2L480.4 416.2Z"/>
<path d="M484.4 390.7L487.3 395.6L481.6 395.6Z"/>
<path d="M485.7 402.0L488.5 406.8L482.8 406.8Z"/>
<path d="M486.9 390.7L489.7 395.6L484.0 395.6Z"/>
<path d="M488.1 387.5L490.9 392.4L485.2 392.4Z"/>
<path d="M489.3 397.9L492.2 402.8L486.5 402.8Z"/>
<path d="M490.5 397.9L493.4 402.8L487.7 402.8Z"/>
<path d="M491.7 387.5L494.6 392.4L488.9 392.4Z"/>
<path d="M493.0 397.9L495.8 402.8L490.1 402.8Z"/>
<path d="M494.2 394.2L497.0 399.0L491.3 399.0Z"/>
<path d="M495.4 406.4L498.2 411.3L492.5 411.3Z"/>
<path d="M496.6 394.2L499.5 399.0L493.8 399.0Z"/>
<path d="M497.8 390.7L500.7 395.6L495.0 395.6Z"/>
<path d="M499.0 379.0L501.9 383.8L496.2 383.8Z"/>
<path d="M500.3 397.9L503.1 402.8L497.4 402.8Z"/>
<path d="M501.5 379.0L504.3 383.8L498.6 383.8Z"/>
<path d="M502.7 381.7L505.5 386.5L499.8 386.5Z"/>
<path d="M503.9 411.3L506.8 416.2L501.1 416.2Z"/>
<path d="M505.1 411.3L508.0 416.2L502.3 416.2Z"/>
<path d="M506.3 371.8L509.2 376.6L503.5 376.6Z"/>
<path d="M507.6 381.7L510.4 386.5L504.7 386.5Z"/>
<path d="M508.8 390.7L511.6 395.6L505.9 395.6Z"/>
<path d="M510.0 394.2L512.8 399.0L507.1 399.0Z"/>
<path d="M511.2 411.3L514.1 416.2L508.4 416.2Z"/>
<path d="M512.4 397.9L515.3 402.8L509.6 402.8Z"/>
<path d="M513.6 402.0L516.5 406.8L510.8 406.8Z"/>
<path d="M514.9 406.4L517.7 411.3L512.0 411.3Z"/>
<path d="M516.1 430.3L518.9 435.1L513.2 435.1Z"/>
<path d="M517.3 402.0L520.1 406.8L514.4 406.8Z"/>
<path d="M518.5 394.2L521.3 399.0L515.6 399.0Z"/>
<path d="M519.7 402.0L522.6 406.8L516.9 406.8Z"/>
<path d="M520.9 397.9L523.8 402.8L518.1 402.8Z"/>
<path d="M522.1 384.5L525.0 389.3L519.3 389.3Z"/>
<path d="M523.4 416.8L526.2 421.7L520.5 421.7Z"/>
<path d="M524.6 381.7L527.4 386.5L521.7 386.5Z"/>
<path d="M525.8 390.7L528.6 395.6L522.9 395.6Z"/>
<path d="M527.0 387.5L529.9 392.4L524.2 392.4Z"/>
<path d="M528.2 384.5L531.1 389.3L525.4 389.3Z"/>
<path d="M529.4 390.7L532.3 395.6L526.6 395.6Z"/>
<path d="M530.7 397.9L533.5 402.8L527.8 402.8Z"/>
<path d="M531.9 384.5L534.7 389.3L529.0 389.3Z"/>
<path d="M533.1 397.9L535.9 402.8L530.2 402.8Z"/>
<path d="M534.3 387.5L537.2 392.4L531.5 392.4Z"/>
<path d="M535.5 381.7L538.4 386.5L532.7 386.5Z"/>
<path d="M536.7 406.4L539.6 411.3L533.9 411.3Z"/>
<path d="M538.0 384.5L540.8 389.3L535.1 389.3Z"/>
<path d="M539.2 397.9L542.0 402.8L536.3 402.8Z"/>
<path d="M540.4 387.5L543.2 392.4L537.5 392.4Z"/>
<path d="M541.6 374.1L544.5 378.9L538.8 378.9Z"/>
<path d="M542.8 374.1L545.7 378.9L540.0 378.9Z"/>
<path d="M544.0 379.0L546.9 383.8L541.2 383.8Z"/>
<path d="M545.3 390.7L548.1 395.6L542.4 395.6Z"/>
<path d="M546.5 438.8L549.3 443.6L543.6 443.6Z"/>
<path d="M547.7 394.2L550.5 399.0L544.8 399.0Z"/>
<path d="M548.9 402.0L551.8 406.8L546.1 406.8Z"/>
<path d="M550.1 394.2L553.0 399.0L547.3 399.0Z"/>
<path d="M551.3 387.5L554.2 392.4L548.5 392.4Z"/>
<path d="M552.6 384.5L555.4 389.3L549.7 389.3Z"/>
<path d="M553.8 390.7L556.6 395.6L550.9 395.6Z"/>
<path d="M555.0 402.0L557.8 406.8L552.1 406.8Z"/>
<path d="M556.2 406.4L559.0 411.3L553.3 411.3Z"/>
<path d="M557.4 379.0L560.3 383.8L554.6 383.8Z"/>
<path d="M558.6 402.0L561.5 406.8L555.8 406.8Z"/>
<path d="M559.8 394.2L562.7 399.0L557.0 399.0Z"/>
<path d="M561.1 402.0L563.9 406.8L558.2 406.8Z"/>
<path d="M562.3 390.7L565.1 395.6L559.4 395.6Z"/>
<path d="M563.5 406.4L566.3 411.3L560.6 411.3Z"/>
<path d="M564.7 397.9L567.6 402.8L561.9 402.8Z"/>
<path d="M565.9 381.7L568.8 386.5L563.1 386.5Z"/>
<path d="M567.1 379.0L570.0 383.8L564.3 383.8Z"/>
<path d="M568.4 402.0L571.2 406.8L565.5 406.8Z"/>
<path d="M569.6 384.5L572.4 389.3L566.7 389.3Z"/>
<path d="M570.8 411.3L573.6 416.2L567.9 416.2Z"/>
<path d="M572.0 379.0L574.9 383.8L569.2 383.8Z"/>
<path d="M573.2 411.3L576.1 416.2L570.4 416.2Z"/>
<path d="M574.4 381.7L577.3 386.5L571.6 386.5Z"/>
<path d="M575.7 423.1L578.5 427.9L572.8 427.9Z"/>
<path d="M576.9 387.5L579.7 392.4L574.0 392.4Z"/>
<path d="M578.1 397.9L580.9 402.8L575.2 402.8Z"/>
<path d="M579.3 390.7L582.2 395.6L576.5 395.6Z"/>
<path d="M580.5 394.2L583.4 399.0L577.7 399.0Z"/>
<path d="M581.7 387.5L584.6 392.4L578.9 392.4Z"/>
<path d="M583.0 411.3L585.8 416.2L580.1 416.2Z"/>
<path d="M584.2 430.3L587.0 435.1L581.3 435.1Z"/>
<path d="M585.4 423.1L588.2 427.9L582.5 427.9Z"/>
<path d="M586.6 384.5L589.5 389.3L583.8 389.3Z"/>
<path d="M587.8 390.7L590.7 395.6L585.0 395.6Z"/>
<path d="M589.0 381.7L591.9 386.5L586.2 386.5Z"/>
<path d="M590.3 394.2L593.1 399.0L587.4 399.0Z"/>
<path d="M591.5 438.8L594.3 443.6L588.6 443.6Z"/>
<path d="M592.7 423.1L595.5 427.9L589.8 427.9Z"/>
<path d="M593.9 406.4L596.7 411.3L591.0 411.3Z"/>
<path d="M595.1 376.5L598.0 381.3L592.3 381.3Z"/>
<path d="M596.3 390.7L599.2 395.6L593.5 395.6Z"/>
<path d="M597.5 406.4L600.4 411.3L594.7 411.3Z"/>
<path d="M598.8 394.2L601.6 399.0L595.9 399.0Z"/>
<path d="M600.0 394.2L602.8 399.0L597.1 399.0Z"/>
<path d="M601.2 402.0L604.0 406.8L598.3 406.8Z"/>
<path d="M602.4 387.5L605.3 392.4L599.6 392.4Z"/>
<path d="M603.6 376.5L606.5 381.3L600.8 381.3Z"/>
<path d="M604.8 384.5L607.7 389.3L602.0 389.3Z"/>
<path d="M606.1 394.2L608.9 399.0L603.2 399.0Z"/>
<path d="M607.3 394.2L610.1 399.0L604.4 399.0Z"/>
<path d="M608.5 387.5L611.3 392.4L605.6 392.4Z"/>
<path d="M609.7 411.3L612.6 416.2L606.9 416.2Z"/>
<path d="M610.9 390.7L613.8 395.6L608.1 395.6Z"/>
<path d="M612.1 390.7L615.0 395.6L609.3 395.6Z"/>
<path d="M613.4 384.5L616.2 389.3L610.5 389.3Z"/>
<path d="M614.6 402.0L617.4 406.8L611.7 406.8Z"/>
<path d="M615.8 402.0L618.6 406.8L612.9 406.8Z"/>
<path d="M617.0 390.7L619.9 395.6L614.2 395.6Z"/>
<path d="M618.2 423.1L621.1 427.9L615.4 427.9Z"/>
<path d="M619.4 381.7L622.3 386.5L616.6 386.5Z"/>
<path d="M620.7 394.2L623.5 399.0L617.8 399.0Z"/>
<path d="M621.9 384.5L624.7 389.3L619.0 389.3Z"/>
<path d="M623.1 381.7L625.9 386.5L620.2 386.5Z"/>
<path d="M624.3 376.5L627.2 381.3L621.5 381.3Z"/>
<path d="M625.5 416.8L628.4 421.7L622.7 421.7Z"/>
<path d="M626.7 387.5L629.6 392.4L623.9 392.4Z"/>
<path d="M628.0 430.3L630.8 435.1L625.1 435.1Z"/>
<path d="M629.2 397.9L632.0 402.8L626.3 402.8Z"/>
<path d="M630.4 381.7L633.2 386.5L627.5 386.5Z"/>
<path d="M631.6 390.7L634.5 395.6L628.8 395.6Z"/>
</g>
<path d="M96.50 497.00v-8.00M96.50 67.00v8.00M120.82 497.00v-4.20M120.82 67.00v4.20M145.15 497.00v-8.00M145.15 67.00v8.00M169.47 497.00v-4.20M169.47 67.00v4.20M193.79 497.00v-8.00M193.79 67.00v8.00M218.11 497.00v-4.20M218.11 67.00v4.20M242.44 497.00v-8.00M242.44 67.00v8.00M266.76 497.00v-4.20M266.76 67.00v4.20M291.08 497.00v-8.00M291.08 67.00v8.00M315.40 497.00v-4.20M315.40 67.00v4.20M339.73 497.00v-8.00M339.73 67.00v8.00M364.05 497.00v-4.20M364.05 67.00v4.20M388.37 497.00v-8.00M388.37 67.00v8.00M412.70 497.00v-4.20M412.70 67.00v4.20M437.02 497.00v-8.00M437.02 67.00v8.00M461.34 497.00v-4.20M461.34 67.00v4.20M485.66 497.00v-8.00M485.66 67.00v8.00M509.99 497.00v-4.20M509.99 67.00v4.20M534.31 497.00v-8.00M534.31 67.00v8.00M558.63 497.00v-4.20M558.63 67.00v4.20M582.95 497.00v-8.00M582.95 67.00v8.00M607.28 497.00v-4.20M607.28 67.00v4.20M631.60 497.00v-8.00M631.60 67.00v8.00M96.50 67.00h8.00M631.60 67.00h-8.00M96.50 174.50h8.00M631.60 174.50h-8.00M96.50 142.14h4.20M631.60 142.14h-4.20M96.50 123.21h4.20M631.60 123.21h-4.20M96.50 109.78h4.20M631.60 109.78h-4.20M96.50 99.36h4.20M631.60 99.36h-4.20M96.50 90.85h4.20M631.60 90.85h-4.20M96.50 83.65h4.20M631.60 83.65h-4.20M96.50 77.42h4.20M631.60 77.42h-4.20M96.50 71.92h4.20M631.60 71.92h-4.20M96.50 282.00h8.00M631.60 282.00h-8.00M96.50 249.64h4.20M631.60 249.64h-4.20M96.50 230.71h4.20M631.60 230.71h-4.20M96.50 217.28h4.20M631.60 217.28h-4.20M96.50 206.86h4.20M631.60 206.86h-4.20M96.50 198.35h4.20M631.60 198.35h-4.20M96.50 191.15h4.20M631.60 191.15h-4.20M96.50 184.92h4.20M631.60 184.92h-4.20M96.50 179.42h4.20M631.60 179.42h-4.20M96.50 389.50h8.00M631.60 389.50h-8.00M96.50 357.14h4.20M631.60 357.14h-4.20M96.50 338.21h4.20M631.60 338.21h-4.20M96.50 324.78h4.20M631.60 324.78h-4.20M96.50 314.36h4.20M631.60 314.36h-4.20M96.50 305.85h4.20M631.60 305.85h-4.20M96.50 298.65h4.20M631.60 298.65h-4.20M96.50 292.42h4.20M631.60 292.42h-4.20M96.50 286.92h4.20M631.60 286.92h-4.20M96.50 497.00h8.00M631.60 497.00h-8.00M96.50 464.64h4.20M631.60 464.64h-4.20M96.50 445.71h4.20M631.60 445.71h-4.20M96.50 432.28h4.20M631.60 432.28h-4.20M96.50 421.86h4.20M631.60 421.86h-4.20M96.50 413.35h4.20M631.60 413.35h-4.20M96.50 406.15h4.20M631.60 406.15h-4.20M96.50 399.92h4.20M631.60 399.92h-4.20M96.50 394.42h4.20M631.60 394.42h-4.20" stroke="#000" stroke-width="2.00" fill="none"/>
<rect x="96.50" y="67.00" width="535.10" height="430.00" fill="none" stroke="#000" stroke-width="2.00"/>
<text transform="translate(96.50 520.80) scale(1.0120 1)" font-size="17.7" text-anchor="middle" stroke="#000" stroke-width="0.50">0</text>
<text transform="translate(145.15 520.80) scale(1.0120 1)" font-size="17.7" text-anchor="middle" stroke="#000" stroke-width="0.50">1</text>
<text transform="translate(193.79 520.80) scale(1.0120 1)" font-size="17.7" text-anchor="middle" stroke="#000" stroke-width="0.50">2</text>
<text transform="translate(242.44 520.80) scale(1.0120 1)" font-size="17.7" text-anchor="middle" stroke="#000" stroke-width="0.50">3</text>
<text transform="translate(291.08 520.80) scale(1.0120 1)" font-size="17.7" text-anchor="middle" stroke="#000" stroke-width="0.50">4</text>
<text transform="translate(339.73 520.80) scale(1.0120 1)" font-size="17.7" text-anchor="middle" stroke="#000" stroke-width="0.50">5</text>
<text transform="translate(388.37 520.80) scale(1.0120 1)" font-size="17.7" text-anchor="middle" stroke="#000" stroke-width="0.50">6</text>
<text transform="translate(437.02 520.80) scale(1.0120 1)" font-size="17.7" text-anchor="middle" stroke="#000" stroke-width="0.50">7</text>
<text transform="translate(485.66 520.80) scale(1.0120 1)" font-size="17.7" text-anchor="middle" stroke="#000" stroke-width="0.50">8</text>
<text transform="translate(534.31 520.80) scale(1.0120 1)" font-size="17.7" text-anchor="middle" stroke="#000" stroke-width="0.50">9</text>
<text transform="translate(582.95 520.80) scale(1.0120 1)" font-size="17.7" text-anchor="middle" stroke="#000" stroke-width="0.50">10</text>
<text transform="translate(631.60 520.80) scale(1.0120 1)" font-size="17.7" text-anchor="middle" stroke="#000" stroke-width="0.50">11</text>
<text transform="translate(86.00 72.50) scale(1.0120 1)" font-size="17.7" text-anchor="end" stroke="#000" stroke-width="0.50">1</text>
<text transform="translate(86.00 180.00) scale(1.0120 1)" font-size="17.7" text-anchor="end" stroke="#000" stroke-width="0.50">0.1</text>
<text transform="translate(86.00 287.50) scale(1.0120 1)" font-size="17.7" text-anchor="end" stroke="#000" stroke-width="0.50">0.01</text>
<text transform="translate(86.00 395.00) scale(1.0120 1)" font-size="17.7" text-anchor="end" stroke="#000" stroke-width="0.50">0.001</text>
<text transform="translate(86.00 502.50) scale(1.0120 1)" font-size="17.7" text-anchor="end" stroke="#000" stroke-width="0.50">1E-4</text>
<text transform="translate(364.20 555.20) scale(1.0120 1)" font-size="22.2" text-anchor="middle" stroke="#000" stroke-width="0.50">Time (ns)</text>
<text transform="translate(16.80 281.60) rotate(-90) scale(0.9460 1)" font-size="24" text-anchor="middle" stroke="#000" stroke-width="0.50">Normalized PL</text>
<g fill="none" stroke="#3f55a5" stroke-width="1.75"><path d="M358.9 103.6L361.8 108.4L356.0 108.4Z"/></g>
<text transform="translate(390.30 113.70) scale(1.0120 1)" font-size="22.3" stroke="#000" stroke-width="0.50">WS<tspan font-size="14.2" dy="6.6">2</tspan></text>
<circle cx="459.9" cy="106.3" r="2.35" fill="none" stroke="#ed2024" stroke-width="2"/>
<text transform="translate(491.30 113.70) scale(1.0120 1)" font-size="22.3" stroke="#000" stroke-width="0.50">WS<tspan font-size="14.2" dy="6.6">2</tspan><tspan dy="-6.6">/ReS</tspan><tspan font-size="14.2" dy="6.6">2</tspan></text>
<text transform="translate(0.20 35.20) scale(1.0200 1)" font-size="41" font-weight="bold" stroke="#000" stroke-width="0.40">(a)</text></g>
<g id="panel-b"><rect x="738.60" y="65.40" width="449.00" height="430.40" fill="#fac8ca"/>
<rect x="741.41" y="65.40" width="446.19" height="430.40" fill="#f9bfc2"/>
<rect x="747.02" y="65.40" width="440.58" height="430.40" fill="#f8b1b3"/>
<rect x="752.63" y="65.40" width="434.97" height="430.40" fill="#f48c8e"/>
<rect x="758.24" y="65.40" width="429.36" height="430.40" fill="#f27073"/>
<rect x="763.86" y="65.40" width="423.74" height="430.40" fill="#f05357"/>
<rect x="769.47" y="65.40" width="418.13" height="430.40" fill="#f04b4e"/>
<rect x="775.08" y="65.40" width="412.52" height="430.40" fill="#ee3c3f"/>
<rect x="780.69" y="65.40" width="406.91" height="430.40" fill="#ee2f33"/>
<rect x="786.31" y="65.40" width="401.29" height="430.40" fill="#ed282b"/>
<rect x="791.92" y="65.40" width="395.68" height="430.40" fill="#ed2024"/>
<rect x="848.04" y="65.40" width="339.56" height="430.40" fill="#ed2024"/>
<rect x="853.66" y="65.40" width="333.94" height="430.40" fill="#ed2226"/>
<rect x="859.27" y="65.40" width="328.33" height="430.40" fill="#ed2428"/>
<rect x="864.88" y="65.40" width="322.72" height="430.40" fill="#ee2c2f"/>
<rect x="870.49" y="65.40" width="317.11" height="430.40" fill="#ee3134"/>
<rect x="876.11" y="65.40" width="311.49" height="430.40" fill="#ee373a"/>
<rect x="881.72" y="65.40" width="305.88" height="430.40" fill="#ee3c3f"/>
<rect x="887.33" y="65.40" width="300.27" height="430.40" fill="#ef4144"/>
<rect x="892.94" y="65.40" width="294.66" height="430.40" fill="#f04649"/>
<rect x="898.56" y="65.40" width="289.04" height="430.40" fill="#f05154"/>
<rect x="904.17" y="65.40" width="283.43" height="430.40" fill="#f15a5d"/>
<rect x="909.78" y="65.40" width="277.82" height="430.40" fill="#f16468"/>
<rect x="915.39" y="65.40" width="272.21" height="430.40" fill="#f27073"/>
<rect x="921.01" y="65.40" width="266.59" height="430.40" fill="#f37b7e"/>
<rect x="926.62" y="65.40" width="260.98" height="430.40" fill="#f48789"/>
<rect x="932.23" y="65.40" width="255.37" height="430.40" fill="#f59193"/>
<rect x="937.84" y="65.40" width="249.76" height="430.40" fill="#f69b9e"/>
<rect x="943.46" y="65.40" width="244.14" height="430.40" fill="#f7a5a8"/>
<rect x="949.07" y="65.40" width="238.53" height="430.40" fill="#f8b1b3"/>
<rect x="954.68" y="65.40" width="232.92" height="430.40" fill="#f9b9bc"/>
<rect x="960.29" y="65.40" width="227.31" height="430.40" fill="#fac2c4"/>
<rect x="965.91" y="65.40" width="221.69" height="430.40" fill="#facdce"/>
<rect x="971.52" y="65.40" width="216.08" height="430.40" fill="#fcd6d7"/>
<rect x="977.13" y="65.40" width="210.47" height="430.40" fill="#fcdfe0"/>
<rect x="982.74" y="65.40" width="204.86" height="430.40" fill="#fde4e4"/>
<rect x="993.97" y="65.40" width="193.63" height="430.40" fill="#fff8f5"/>
<rect x="1005.19" y="65.40" width="182.41" height="430.40" fill="#ecebf7"/>
<rect x="1022.03" y="65.40" width="165.57" height="430.40" fill="#e8e7f5"/>
<rect x="1027.64" y="65.40" width="159.96" height="430.40" fill="#dad9ee"/>
<rect x="1038.87" y="65.40" width="148.73" height="430.40" fill="#d2d0e9"/>
<rect x="1050.09" y="65.40" width="137.51" height="430.40" fill="#acaad6"/>
<rect x="1055.71" y="65.40" width="131.89" height="430.40" fill="#c2c0e1"/>
<rect x="1061.32" y="65.40" width="126.28" height="430.40" fill="#b7b5dc"/>
<rect x="1066.93" y="65.40" width="120.67" height="430.40" fill="#b2b0d9"/>
<rect x="1072.54" y="65.40" width="115.06" height="430.40" fill="#9796cb"/>
<rect x="1078.16" y="65.40" width="109.44" height="430.40" fill="#9c9bce"/>
<rect x="1083.77" y="65.40" width="103.83" height="430.40" fill="#9796cb"/>
<rect x="1094.99" y="65.40" width="92.61" height="430.40" fill="#8383c0"/>
<rect x="1106.22" y="65.40" width="81.38" height="430.40" fill="#6c70b6"/>
<rect x="1128.67" y="65.40" width="58.93" height="430.40" fill="#505eaa"/>
<rect x="1134.28" y="65.40" width="53.32" height="430.40" fill="#6169b1"/>
<rect x="1145.51" y="65.40" width="42.09" height="430.40" fill="#7072b7"/>
<rect x="1151.12" y="65.40" width="36.48" height="430.40" fill="#6169b1"/>
<rect x="1156.73" y="65.40" width="30.87" height="430.40" fill="#7072b7"/>
<rect x="1162.34" y="65.40" width="25.26" height="430.40" fill="#5a64ae"/>
<rect x="1167.96" y="65.40" width="19.64" height="430.40" fill="#4859a7"/>
<rect x="738.60" y="104.00" width="449.00" height="391.80" fill="#facdce"/>
<rect x="741.41" y="104.00" width="446.19" height="391.80" fill="#f9bfc2"/>
<rect x="747.02" y="104.00" width="440.58" height="391.80" fill="#f7a5a8"/>
<rect x="752.63" y="104.00" width="434.97" height="391.80" fill="#f59193"/>
<rect x="758.24" y="104.00" width="429.36" height="391.80" fill="#f27073"/>
<rect x="763.86" y="104.00" width="423.74" height="391.80" fill="#f15c5f"/>
<rect x="769.47" y="104.00" width="418.13" height="391.80" fill="#f04b4e"/>
<rect x="775.08" y="104.00" width="412.52" height="391.80" fill="#ef4144"/>
<rect x="780.69" y="104.00" width="406.91" height="391.80" fill="#ee3336"/>
<rect x="786.31" y="104.00" width="401.29" height="391.80" fill="#ee2c2f"/>
<rect x="791.92" y="104.00" width="395.68" height="391.80" fill="#ed2024"/>
<rect x="859.27" y="104.00" width="328.33" height="391.80" fill="#ed2024"/>
<rect x="864.88" y="104.00" width="322.72" height="391.80" fill="#ed2226"/>
<rect x="870.49" y="104.00" width="317.11" height="391.80" fill="#ed2428"/>
<rect x="876.11" y="104.00" width="311.49" height="391.80" fill="#ee373a"/>
<rect x="898.56" y="104.00" width="289.04" height="391.80" fill="#ef4144"/>
<rect x="904.17" y="104.00" width="283.43" height="391.80" fill="#f04b4e"/>
<rect x="909.78" y="104.00" width="277.82" height="391.80" fill="#f05154"/>
<rect x="915.39" y="104.00" width="272.21" height="391.80" fill="#f0585b"/>
<rect x="921.01" y="104.00" width="266.59" height="391.80" fill="#f16064"/>
<rect x="926.62" y="104.00" width="260.98" height="391.80" fill="#f16468"/>
<rect x="932.23" y="104.00" width="255.37" height="391.80" fill="#f27073"/>
<rect x="937.84" y="104.00" width="249.76" height="391.80" fill="#f37b7e"/>
<rect x="943.46" y="104.00" width="244.14" height="391.80" fill="#f48789"/>
<rect x="949.07" y="104.00" width="238.53" height="391.80" fill="#f59193"/>
<rect x="954.68" y="104.00" width="232.92" height="391.80" fill="#f69b9e"/>
<rect x="960.29" y="104.00" width="227.31" height="391.80" fill="#f7a5a8"/>
<rect x="965.91" y="104.00" width="221.69" height="391.80" fill="#f8b1b3"/>
<rect x="971.52" y="104.00" width="216.08" height="391.80" fill="#fac2c4"/>
<rect x="977.13" y="104.00" width="210.47" height="391.80" fill="#facdce"/>
<rect x="982.74" y="104.00" width="204.86" height="391.80" fill="#fcd6d7"/>
<rect x="993.97" y="104.00" width="193.63" height="391.80" fill="#fcdfe0"/>
<rect x="1005.19" y="104.00" width="182.41" height="391.80" fill="#fff8f5"/>
<rect x="1016.42" y="104.00" width="171.18" height="391.80" fill="#f8f7fc"/>
<rect x="1022.03" y="104.00" width="165.57" height="391.80" fill="#fff8f5"/>
<rect x="1027.64" y="104.00" width="159.96" height="391.80" fill="#dfdef0"/>
<rect x="1050.09" y="104.00" width="137.51" height="391.80" fill="#cdcbe7"/>
<rect x="1055.71" y="104.00" width="131.89" height="391.80" fill="#dad9ee"/>
<rect x="1061.32" y="104.00" width="126.28" height="391.80" fill="#cdcbe7"/>
<rect x="1066.93" y="104.00" width="120.67" height="391.80" fill="#c2c0e1"/>
<rect x="1072.54" y="104.00" width="115.06" height="391.80" fill="#b7b5dc"/>
<rect x="1089.38" y="104.00" width="98.22" height="391.80" fill="#a1a0d0"/>
<rect x="1094.99" y="104.00" width="92.61" height="391.80" fill="#7576b9"/>
<rect x="1100.61" y="104.00" width="86.99" height="391.80" fill="#7e7fbe"/>
<rect x="1111.83" y="104.00" width="75.77" height="391.80" fill="#797bbc"/>
<rect x="1123.06" y="104.00" width="64.54" height="391.80" fill="#7072b7"/>
<rect x="1134.28" y="104.00" width="53.32" height="391.80" fill="#8c8cc5"/>
<rect x="1139.89" y="104.00" width="47.71" height="391.80" fill="#656bb2"/>
<rect x="1167.96" y="104.00" width="19.64" height="391.80" fill="#5a64ae"/>
<rect x="1184.79" y="104.00" width="2.81" height="391.80" fill="#505eaa"/>
<rect x="738.60" y="176.00" width="449.00" height="319.80" fill="#fbd1d3"/>
<rect x="741.41" y="176.00" width="446.19" height="319.80" fill="#facacc"/>
<rect x="747.02" y="176.00" width="440.58" height="319.80" fill="#f8b6b9"/>
<rect x="752.63" y="176.00" width="434.97" height="319.80" fill="#f6a0a3"/>
<rect x="758.24" y="176.00" width="429.36" height="319.80" fill="#f48184"/>
<rect x="763.86" y="176.00" width="423.74" height="319.80" fill="#f16468"/>
<rect x="769.47" y="176.00" width="418.13" height="319.80" fill="#f05357"/>
<rect x="775.08" y="176.00" width="412.52" height="319.80" fill="#f04649"/>
<rect x="780.69" y="176.00" width="406.91" height="319.80" fill="#ee3c3f"/>
<rect x="786.31" y="176.00" width="401.29" height="319.80" fill="#ee3336"/>
<rect x="791.92" y="176.00" width="395.68" height="319.80" fill="#ed2024"/>
<rect x="859.27" y="176.00" width="328.33" height="319.80" fill="#ed2024"/>
<rect x="864.88" y="176.00" width="322.72" height="319.80" fill="#ed2226"/>
<rect x="870.49" y="176.00" width="317.11" height="319.80" fill="#ed2428"/>
<rect x="876.11" y="176.00" width="311.49" height="319.80" fill="#ed2a2d"/>
<rect x="881.72" y="176.00" width="305.88" height="319.80" fill="#ee2d31"/>
<rect x="887.33" y="176.00" width="300.27" height="319.80" fill="#ee3134"/>
<rect x="892.94" y="176.00" width="294.66" height="319.80" fill="#ee3538"/>
<rect x="898.56" y="176.00" width="289.04" height="319.80" fill="#ee3c3f"/>
<rect x="904.17" y="176.00" width="283.43" height="319.80" fill="#ef4446"/>
<rect x="909.78" y="176.00" width="277.82" height="319.80" fill="#f04b4e"/>
<rect x="915.39" y="176.00" width="272.21" height="319.80" fill="#f04f52"/>
<rect x="921.01" y="176.00" width="266.59" height="319.80" fill="#f05154"/>
<rect x="926.62" y="176.00" width="260.98" height="319.80" fill="#f0585b"/>
<rect x="932.23" y="176.00" width="255.37" height="319.80" fill="#f16064"/>
<rect x="937.84" y="176.00" width="249.76" height="319.80" fill="#f27073"/>
<rect x="943.46" y="176.00" width="244.14" height="319.80" fill="#f48184"/>
<rect x="949.07" y="176.00" width="238.53" height="319.80" fill="#f48c8e"/>
<rect x="954.68" y="176.00" width="232.92" height="319.80" fill="#f69698"/>
<rect x="960.29" y="176.00" width="227.31" height="319.80" fill="#f6a0a3"/>
<rect x="977.13" y="176.00" width="210.47" height="319.80" fill="#f8b6b9"/>
<rect x="982.74" y="176.00" width="204.86" height="319.80" fill="#fac2c4"/>
<rect x="993.97" y="176.00" width="193.63" height="319.80" fill="#facdce"/>
<rect x="1005.19" y="176.00" width="182.41" height="319.80" fill="#fcd6d7"/>
<rect x="1016.42" y="176.00" width="171.18" height="319.80" fill="#fde4e4"/>
<rect x="1022.03" y="176.00" width="165.57" height="319.80" fill="#f8f7fc"/>
<rect x="1027.64" y="176.00" width="159.96" height="319.80" fill="#fff8f5"/>
<rect x="1033.26" y="176.00" width="154.34" height="319.80" fill="#f4f3fa"/>
<rect x="1044.48" y="176.00" width="143.12" height="319.80" fill="#e4e2f3"/>
<rect x="1061.32" y="176.00" width="126.28" height="319.80" fill="#cdcbe7"/>
<rect x="1066.93" y="176.00" width="120.67" height="319.80" fill="#c2c0e1"/>
<rect x="1094.99" y="176.00" width="92.61" height="319.80" fill="#b7b5dc"/>
<rect x="1106.22" y="176.00" width="81.38" height="319.80" fill="#9191c8"/>
<rect x="1111.83" y="176.00" width="75.77" height="319.80" fill="#7e7fbe"/>
<rect x="1117.44" y="176.00" width="70.16" height="319.80" fill="#9191c8"/>
<rect x="1128.67" y="176.00" width="58.93" height="319.80" fill="#8383c0"/>
<rect x="1134.28" y="176.00" width="53.32" height="319.80" fill="#797bbc"/>
<rect x="1139.89" y="176.00" width="47.71" height="319.80" fill="#8383c0"/>
<rect x="1145.51" y="176.00" width="42.09" height="319.80" fill="#6c70b6"/>
<rect x="1162.34" y="176.00" width="25.26" height="319.80" fill="#656bb2"/>
<rect x="1179.18" y="176.00" width="8.42" height="319.80" fill="#5a64ae"/>
<rect x="738.60" y="248.00" width="449.00" height="247.80" fill="#fbd1d3"/>
<rect x="741.41" y="248.00" width="446.19" height="247.80" fill="#facacc"/>
<rect x="747.02" y="248.00" width="440.58" height="247.80" fill="#f9bcbf"/>
<rect x="752.63" y="248.00" width="434.97" height="247.80" fill="#f6a0a3"/>
<rect x="758.24" y="248.00" width="429.36" height="247.80" fill="#f48184"/>
<rect x="763.86" y="248.00" width="423.74" height="247.80" fill="#f16468"/>
<rect x="769.47" y="248.00" width="418.13" height="247.80" fill="#f05357"/>
<rect x="775.08" y="248.00" width="412.52" height="247.80" fill="#ef4144"/>
<rect x="780.69" y="248.00" width="406.91" height="247.80" fill="#ee2c2f"/>
<rect x="786.31" y="248.00" width="401.29" height="247.80" fill="#ed2024"/>
<rect x="859.27" y="248.00" width="328.33" height="247.80" fill="#ed2024"/>
<rect x="864.88" y="248.00" width="322.72" height="247.80" fill="#ed2226"/>
<rect x="870.49" y="248.00" width="317.11" height="247.80" fill="#ed2428"/>
<rect x="876.11" y="248.00" width="311.49" height="247.80" fill="#ed2a2d"/>
<rect x="881.72" y="248.00" width="305.88" height="247.80" fill="#ee2d31"/>
<rect x="887.33" y="248.00" width="300.27" height="247.80" fill="#ee3134"/>
<rect x="892.94" y="248.00" width="294.66" height="247.80" fill="#ee3538"/>
<rect x="898.56" y="248.00" width="289.04" height="247.80" fill="#ee3c3f"/>
<rect x="904.17" y="248.00" width="283.43" height="247.80" fill="#ef4446"/>
<rect x="909.78" y="248.00" width="277.82" height="247.80" fill="#f04b4e"/>
<rect x="915.39" y="248.00" width="272.21" height="247.80" fill="#f04f52"/>
<rect x="921.01" y="248.00" width="266.59" height="247.80" fill="#f05154"/>
<rect x="926.62" y="248.00" width="260.98" height="247.80" fill="#f0585b"/>
<rect x="932.23" y="248.00" width="255.37" height="247.80" fill="#f16064"/>
<rect x="937.84" y="248.00" width="249.76" height="247.80" fill="#f26d70"/>
<rect x="943.46" y="248.00" width="244.14" height="247.80" fill="#f37b7e"/>
<rect x="949.07" y="248.00" width="238.53" height="247.80" fill="#f48184"/>
<rect x="954.68" y="248.00" width="232.92" height="247.80" fill="#f48c8e"/>
<rect x="960.29" y="248.00" width="227.31" height="247.80" fill="#f69698"/>
<rect x="965.91" y="248.00" width="221.69" height="247.80" fill="#f69b9e"/>
<rect x="971.52" y="248.00" width="216.08" height="247.80" fill="#f7a5a8"/>
<rect x="977.13" y="248.00" width="210.47" height="247.80" fill="#f8b1b3"/>
<rect x="988.36" y="248.00" width="199.24" height="247.80" fill="#f9bcbf"/>
<rect x="993.97" y="248.00" width="193.63" height="247.80" fill="#fcd6d7"/>
<rect x="1016.42" y="248.00" width="171.18" height="247.80" fill="#fee9e8"/>
<rect x="1022.03" y="248.00" width="165.57" height="247.80" fill="#fff8f5"/>
<rect x="1033.26" y="248.00" width="154.34" height="247.80" fill="#fcf8f8"/>
<rect x="1038.87" y="248.00" width="148.73" height="247.80" fill="#f4f3fa"/>
<rect x="1044.48" y="248.00" width="143.12" height="247.80" fill="#f0eff8"/>
<rect x="1050.09" y="248.00" width="137.51" height="247.80" fill="#ecebf7"/>
<rect x="1055.71" y="248.00" width="131.89" height="247.80" fill="#e4e2f3"/>
<rect x="1066.93" y="248.00" width="120.67" height="247.80" fill="#dad9ee"/>
<rect x="1072.54" y="248.00" width="115.06" height="247.80" fill="#d2d0e9"/>
<rect x="1078.16" y="248.00" width="109.44" height="247.80" fill="#c2c0e1"/>
<rect x="1094.99" y="248.00" width="92.61" height="247.80" fill="#a1a0d0"/>
<rect x="1117.44" y="248.00" width="70.16" height="247.80" fill="#9191c8"/>
<rect x="1128.67" y="248.00" width="58.93" height="247.80" fill="#8383c0"/>
<rect x="1134.28" y="248.00" width="53.32" height="247.80" fill="#9191c8"/>
<rect x="1139.89" y="248.00" width="47.71" height="247.80" fill="#7576b9"/>
<rect x="1156.73" y="248.00" width="30.87" height="247.80" fill="#5a64ae"/>
<rect x="1162.34" y="248.00" width="25.26" height="247.80" fill="#696db4"/>
<rect x="1167.96" y="248.00" width="19.64" height="247.80" fill="#5e66b0"/>
<rect x="1179.18" y="248.00" width="8.42" height="247.80" fill="#6c70b6"/>
<rect x="738.60" y="319.00" width="449.00" height="176.80" fill="#fbd1d3"/>
<rect x="741.41" y="319.00" width="446.19" height="176.80" fill="#fac5c7"/>
<rect x="747.02" y="319.00" width="440.58" height="176.80" fill="#f7a5a8"/>
<rect x="752.63" y="319.00" width="434.97" height="176.80" fill="#f48c8e"/>
<rect x="758.24" y="319.00" width="429.36" height="176.80" fill="#f27073"/>
<rect x="763.86" y="319.00" width="423.74" height="176.80" fill="#f15c5f"/>
<rect x="769.47" y="319.00" width="418.13" height="176.80" fill="#f04b4e"/>
<rect x="775.08" y="319.00" width="412.52" height="176.80" fill="#ef4144"/>
<rect x="780.69" y="319.00" width="406.91" height="176.80" fill="#ee3336"/>
<rect x="786.31" y="319.00" width="401.29" height="176.80" fill="#ee2c2f"/>
<rect x="791.92" y="319.00" width="395.68" height="176.80" fill="#ed2024"/>
<rect x="853.66" y="319.00" width="333.94" height="176.80" fill="#ed2024"/>
<rect x="859.27" y="319.00" width="328.33" height="176.80" fill="#ed2226"/>
<rect x="864.88" y="319.00" width="322.72" height="176.80" fill="#ed2428"/>
<rect x="870.49" y="319.00" width="317.11" height="176.80" fill="#ed282b"/>
<rect x="876.11" y="319.00" width="311.49" height="176.80" fill="#ee2c2f"/>
<rect x="881.72" y="319.00" width="305.88" height="176.80" fill="#ee2f33"/>
<rect x="887.33" y="319.00" width="300.27" height="176.80" fill="#ee3538"/>
<rect x="892.94" y="319.00" width="294.66" height="176.80" fill="#ee3c3f"/>
<rect x="898.56" y="319.00" width="289.04" height="176.80" fill="#ef4144"/>
<rect x="904.17" y="319.00" width="283.43" height="176.80" fill="#f0484c"/>
<rect x="909.78" y="319.00" width="277.82" height="176.80" fill="#f04d50"/>
<rect x="915.39" y="319.00" width="272.21" height="176.80" fill="#f05357"/>
<rect x="921.01" y="319.00" width="266.59" height="176.80" fill="#f16064"/>
<rect x="926.62" y="319.00" width="260.98" height="176.80" fill="#f26a6e"/>
<rect x="932.23" y="319.00" width="255.37" height="176.80" fill="#f3787b"/>
<rect x="937.84" y="319.00" width="249.76" height="176.80" fill="#f48789"/>
<rect x="943.46" y="319.00" width="244.14" height="176.80" fill="#f58e91"/>
<rect x="949.07" y="319.00" width="238.53" height="176.80" fill="#f69698"/>
<rect x="954.68" y="319.00" width="232.92" height="176.80" fill="#f69ea0"/>
<rect x="960.29" y="319.00" width="227.31" height="176.80" fill="#f6a0a3"/>
<rect x="965.91" y="319.00" width="221.69" height="176.80" fill="#f8b6b9"/>
<rect x="977.13" y="319.00" width="210.47" height="176.80" fill="#fac2c4"/>
<rect x="982.74" y="319.00" width="204.86" height="176.80" fill="#facdce"/>
<rect x="988.36" y="319.00" width="199.24" height="176.80" fill="#fac8ca"/>
<rect x="993.97" y="319.00" width="193.63" height="176.80" fill="#facdce"/>
<rect x="999.58" y="319.00" width="188.02" height="176.80" fill="#fcdbdb"/>
<rect x="1005.19" y="319.00" width="182.41" height="176.80" fill="#fde4e4"/>
<rect x="1016.42" y="319.00" width="171.18" height="176.80" fill="#fff8f5"/>
<rect x="1027.64" y="319.00" width="159.96" height="176.80" fill="#f8f7fc"/>
<rect x="1038.87" y="319.00" width="148.73" height="176.80" fill="#ecebf7"/>
<rect x="1044.48" y="319.00" width="143.12" height="176.80" fill="#e4e2f3"/>
<rect x="1050.09" y="319.00" width="137.51" height="176.80" fill="#d6d4ec"/>
<rect x="1066.93" y="319.00" width="120.67" height="176.80" fill="#d2d0e9"/>
<rect x="1072.54" y="319.00" width="115.06" height="176.80" fill="#bcbade"/>
<rect x="1083.77" y="319.00" width="103.83" height="176.80" fill="#c8c6e4"/>
<rect x="1089.38" y="319.00" width="98.22" height="176.80" fill="#acaad6"/>
<rect x="1100.61" y="319.00" width="86.99" height="176.80" fill="#9191c8"/>
<rect x="1111.83" y="319.00" width="75.77" height="176.80" fill="#acaad6"/>
<rect x="1117.44" y="319.00" width="70.16" height="176.80" fill="#8788c3"/>
<rect x="1123.06" y="319.00" width="64.54" height="176.80" fill="#7072b7"/>
<rect x="1128.67" y="319.00" width="58.93" height="176.80" fill="#9191c8"/>
<rect x="1134.28" y="319.00" width="53.32" height="176.80" fill="#8788c3"/>
<rect x="1139.89" y="319.00" width="47.71" height="176.80" fill="#7072b7"/>
<rect x="1151.12" y="319.00" width="36.48" height="176.80" fill="#6c70b6"/>
<rect x="1156.73" y="319.00" width="30.87" height="176.80" fill="#5a64ae"/>
<rect x="738.60" y="392.00" width="449.00" height="103.80" fill="#fcdbdb"/>
<rect x="741.41" y="392.00" width="446.19" height="103.80" fill="#fbcfd0"/>
<rect x="747.02" y="392.00" width="440.58" height="103.80" fill="#f8b6b9"/>
<rect x="752.63" y="392.00" width="434.97" height="103.80" fill="#f6a0a3"/>
<rect x="758.24" y="392.00" width="429.36" height="103.80" fill="#f48789"/>
<rect x="763.86" y="392.00" width="423.74" height="103.80" fill="#f26a6e"/>
<rect x="769.47" y="392.00" width="418.13" height="103.80" fill="#f15c5f"/>
<rect x="775.08" y="392.00" width="412.52" height="103.80" fill="#f04b4e"/>
<rect x="780.69" y="392.00" width="406.91" height="103.80" fill="#ee3c3f"/>
<rect x="786.31" y="392.00" width="401.29" height="103.80" fill="#ee3336"/>
<rect x="791.92" y="392.00" width="395.68" height="103.80" fill="#ee2c2f"/>
<rect x="797.53" y="392.00" width="390.07" height="103.80" fill="#ed2024"/>
<rect x="864.88" y="392.00" width="322.72" height="103.80" fill="#ed2024"/>
<rect x="870.49" y="392.00" width="317.11" height="103.80" fill="#ed2226"/>
<rect x="876.11" y="392.00" width="311.49" height="103.80" fill="#ed2428"/>
<rect x="881.72" y="392.00" width="305.88" height="103.80" fill="#ed2a2d"/>
<rect x="887.33" y="392.00" width="300.27" height="103.80" fill="#ee2f33"/>
<rect x="892.94" y="392.00" width="294.66" height="103.80" fill="#ee3336"/>
<rect x="898.56" y="392.00" width="289.04" height="103.80" fill="#ee3a3c"/>
<rect x="904.17" y="392.00" width="283.43" height="103.80" fill="#ef4144"/>
<rect x="909.78" y="392.00" width="277.82" height="103.80" fill="#f0484c"/>
<rect x="915.39" y="392.00" width="272.21" height="103.80" fill="#f04f52"/>
<rect x="921.01" y="392.00" width="266.59" height="103.80" fill="#f05357"/>
<rect x="926.62" y="392.00" width="260.98" height="103.80" fill="#f15a5d"/>
<rect x="932.23" y="392.00" width="255.37" height="103.80" fill="#f16064"/>
<rect x="937.84" y="392.00" width="249.76" height="103.80" fill="#f16468"/>
<rect x="943.46" y="392.00" width="244.14" height="103.80" fill="#f27073"/>
<rect x="949.07" y="392.00" width="238.53" height="103.80" fill="#f37b7e"/>
<rect x="954.68" y="392.00" width="232.92" height="103.80" fill="#f48a8c"/>
<rect x="960.29" y="392.00" width="227.31" height="103.80" fill="#f69b9e"/>
<rect x="965.91" y="392.00" width="221.69" height="103.80" fill="#f48c8e"/>
<rect x="971.52" y="392.00" width="216.08" height="103.80" fill="#f69b9e"/>
<rect x="977.13" y="392.00" width="210.47" height="103.80" fill="#f7a5a8"/>
<rect x="982.74" y="392.00" width="204.86" height="103.80" fill="#f8b6b9"/>
<rect x="988.36" y="392.00" width="199.24" height="103.80" fill="#fac2c4"/>
<rect x="993.97" y="392.00" width="193.63" height="103.80" fill="#f9bcbf"/>
<rect x="999.58" y="392.00" width="188.02" height="103.80" fill="#facdce"/>
<rect x="1010.81" y="392.00" width="176.79" height="103.80" fill="#fde4e4"/>
<rect x="1027.64" y="392.00" width="159.96" height="103.80" fill="#fff8f5"/>
<rect x="1044.48" y="392.00" width="143.12" height="103.80" fill="#f8f7fc"/>
<rect x="1050.09" y="392.00" width="137.51" height="103.80" fill="#ecebf7"/>
<rect x="1061.32" y="392.00" width="126.28" height="103.80" fill="#dad9ee"/>
<rect x="1072.54" y="392.00" width="115.06" height="103.80" fill="#d2d0e9"/>
<rect x="1078.16" y="392.00" width="109.44" height="103.80" fill="#dad9ee"/>
<rect x="1083.77" y="392.00" width="103.83" height="103.80" fill="#c2c0e1"/>
<rect x="1094.99" y="392.00" width="92.61" height="103.80" fill="#a1a0d0"/>
<rect x="1123.06" y="392.00" width="64.54" height="103.80" fill="#8383c0"/>
<rect x="1128.67" y="392.00" width="58.93" height="103.80" fill="#8c8cc5"/>
<rect x="1139.89" y="392.00" width="47.71" height="103.80" fill="#9796cb"/>
<rect x="1145.51" y="392.00" width="42.09" height="103.80" fill="#8c8cc5"/>
<rect x="1156.73" y="392.00" width="30.87" height="103.80" fill="#6c70b6"/>
<rect x="1167.96" y="392.00" width="19.64" height="103.80" fill="#7576b9"/>
<rect x="1179.18" y="392.00" width="8.42" height="103.80" fill="#505eaa"/>
<rect x="738.60" y="461.00" width="449.00" height="34.80" fill="#fcd6d7"/>
<rect x="741.41" y="461.00" width="446.19" height="34.80" fill="#facdce"/>
<rect x="747.02" y="461.00" width="440.58" height="34.80" fill="#f8b6b9"/>
<rect x="752.63" y="461.00" width="434.97" height="34.80" fill="#f6a0a3"/>
<rect x="758.24" y="461.00" width="429.36" height="34.80" fill="#f48789"/>
<rect x="763.86" y="461.00" width="423.74" height="34.80" fill="#f27678"/>
<rect x="769.47" y="461.00" width="418.13" height="34.80" fill="#f15c5f"/>
<rect x="775.08" y="461.00" width="412.52" height="34.80" fill="#f04b4e"/>
<rect x="780.69" y="461.00" width="406.91" height="34.80" fill="#ee3c3f"/>
<rect x="786.31" y="461.00" width="401.29" height="34.80" fill="#ee2f33"/>
<rect x="791.92" y="461.00" width="395.68" height="34.80" fill="#ed2024"/>
<rect x="853.66" y="461.00" width="333.94" height="34.80" fill="#ed2024"/>
<rect x="859.27" y="461.00" width="328.33" height="34.80" fill="#ed2226"/>
<rect x="864.88" y="461.00" width="322.72" height="34.80" fill="#ed2428"/>
<rect x="870.49" y="461.00" width="317.11" height="34.80" fill="#ed2a2d"/>
<rect x="876.11" y="461.00" width="311.49" height="34.80" fill="#ee2d31"/>
<rect x="881.72" y="461.00" width="305.88" height="34.80" fill="#ee3336"/>
<rect x="887.33" y="461.00" width="300.27" height="34.80" fill="#ee373a"/>
<rect x="892.94" y="461.00" width="294.66" height="34.80" fill="#ee3c3f"/>
<rect x="898.56" y="461.00" width="289.04" height="34.80" fill="#ef4446"/>
<rect x="904.17" y="461.00" width="283.43" height="34.80" fill="#f04b4e"/>
<rect x="909.78" y="461.00" width="277.82" height="34.80" fill="#f05357"/>
<rect x="915.39" y="461.00" width="272.21" height="34.80" fill="#f15c5f"/>
<rect x="921.01" y="461.00" width="266.59" height="34.80" fill="#f15e62"/>
<rect x="926.62" y="461.00" width="260.98" height="34.80" fill="#f16064"/>
<rect x="932.23" y="461.00" width="255.37" height="34.80" fill="#f16468"/>
<rect x="937.84" y="461.00" width="249.76" height="34.80" fill="#f27073"/>
<rect x="943.46" y="461.00" width="244.14" height="34.80" fill="#f37b7e"/>
<rect x="949.07" y="461.00" width="238.53" height="34.80" fill="#f48789"/>
<rect x="954.68" y="461.00" width="232.92" height="34.80" fill="#f69698"/>
<rect x="960.29" y="461.00" width="227.31" height="34.80" fill="#f6a0a3"/>
<rect x="965.91" y="461.00" width="221.69" height="34.80" fill="#f8abae"/>
<rect x="971.52" y="461.00" width="216.08" height="34.80" fill="#f8b6b9"/>
<rect x="988.36" y="461.00" width="199.24" height="34.80" fill="#f9bcbf"/>
<rect x="993.97" y="461.00" width="193.63" height="34.80" fill="#fcd6d7"/>
<rect x="999.58" y="461.00" width="188.02" height="34.80" fill="#fac2c4"/>
<rect x="1005.19" y="461.00" width="182.41" height="34.80" fill="#fcdfe0"/>
<rect x="1022.03" y="461.00" width="165.57" height="34.80" fill="#fff8f5"/>
<rect x="1027.64" y="461.00" width="159.96" height="34.80" fill="#feeeec"/>
<rect x="1033.26" y="461.00" width="154.34" height="34.80" fill="#f8f7fc"/>
<rect x="1038.87" y="461.00" width="148.73" height="34.80" fill="#fff8f5"/>
<rect x="1044.48" y="461.00" width="143.12" height="34.80" fill="#fcdfe0"/>
<rect x="1050.09" y="461.00" width="137.51" height="34.80" fill="#e4e2f3"/>
<rect x="1055.71" y="461.00" width="131.89" height="34.80" fill="#ecebf7"/>
<rect x="1061.32" y="461.00" width="126.28" height="34.80" fill="#b2b0d9"/>
<rect x="1066.93" y="461.00" width="120.67" height="34.80" fill="#ecebf7"/>
<rect x="1072.54" y="461.00" width="115.06" height="34.80" fill="#dad9ee"/>
<rect x="1078.16" y="461.00" width="109.44" height="34.80" fill="#d2d0e9"/>
<rect x="1089.38" y="461.00" width="98.22" height="34.80" fill="#a7a5d3"/>
<rect x="1094.99" y="461.00" width="92.61" height="34.80" fill="#d2d0e9"/>
<rect x="1106.22" y="461.00" width="81.38" height="34.80" fill="#b7b5dc"/>
<rect x="1111.83" y="461.00" width="75.77" height="34.80" fill="#c2c0e1"/>
<rect x="1117.44" y="461.00" width="70.16" height="34.80" fill="#a1a0d0"/>
<rect x="1123.06" y="461.00" width="64.54" height="34.80" fill="#b7b5dc"/>
<rect x="1128.67" y="461.00" width="58.93" height="34.80" fill="#9c9bce"/>
<rect x="1139.89" y="461.00" width="47.71" height="34.80" fill="#7576b9"/>
<rect x="1145.51" y="461.00" width="42.09" height="34.80" fill="#8c8cc5"/>
<rect x="1151.12" y="461.00" width="36.48" height="34.80" fill="#7576b9"/>
<rect x="1156.73" y="461.00" width="30.87" height="34.80" fill="#9191c8"/>
<rect x="1162.34" y="461.00" width="25.26" height="34.80" fill="#797bbc"/>
<rect x="1167.96" y="461.00" width="19.64" height="34.80" fill="#8c8cc5"/>
<rect x="1173.57" y="461.00" width="14.03" height="34.80" fill="#656bb2"/>
<rect x="1179.18" y="461.00" width="8.42" height="34.80" fill="#a1a0d0"/>
<path d="M738.60 495.80v8.5M783.50 495.80v8.5M828.40 495.80v8.5M873.30 495.80v8.5M918.20 495.80v8.5M963.10 495.80v8.5M1008.00 495.80v8.5M1052.90 495.80v8.5M1097.80 495.80v8.5M1142.70 495.80v8.5M1187.60 495.80v8.5M738.60 65.40h-8.5M738.60 137.13h-8.5M738.60 208.87h-8.5M738.60 280.60h-8.5M738.60 352.33h-8.5M738.60 424.07h-8.5M738.60 495.80h-8.5" stroke="#000" stroke-width="2.00" fill="none"/>
<rect x="738.60" y="65.40" width="449.00" height="430.40" fill="none" stroke="#000" stroke-width="2.00"/>
<text transform="translate(738.60 524.70) scale(0.9900 1)" font-size="18.4" text-anchor="middle" stroke="#000" stroke-width="0.50">0.0</text>
<text transform="translate(783.50 524.70) scale(0.9900 1)" font-size="18.4" text-anchor="middle" stroke="#000" stroke-width="0.50">0.2</text>
<text transform="translate(828.40 524.70) scale(0.9900 1)" font-size="18.4" text-anchor="middle" stroke="#000" stroke-width="0.50">0.4</text>
<text transform="translate(873.30 524.70) scale(0.9900 1)" font-size="18.4" text-anchor="middle" stroke="#000" stroke-width="0.50">0.6</text>
<text transform="translate(918.20 524.70) scale(0.9900 1)" font-size="18.4" text-anchor="middle" stroke="#000" stroke-width="0.50">0.8</text>
<text transform="translate(963.10 524.70) scale(0.9900 1)" font-size="18.4" text-anchor="middle" stroke="#000" stroke-width="0.50">1.0</text>
<text transform="translate(1008.00 524.70) scale(0.9900 1)" font-size="18.4" text-anchor="middle" stroke="#000" stroke-width="0.50">1.2</text>
<text transform="translate(1052.90 524.70) scale(0.9900 1)" font-size="18.4" text-anchor="middle" stroke="#000" stroke-width="0.50">1.4</text>
<text transform="translate(1097.80 524.70) scale(0.9900 1)" font-size="18.4" text-anchor="middle" stroke="#000" stroke-width="0.50">1.6</text>
<text transform="translate(1142.70 524.70) scale(0.9900 1)" font-size="18.4" text-anchor="middle" stroke="#000" stroke-width="0.50">1.8</text>
<text transform="translate(1187.60 524.70) scale(0.9900 1)" font-size="18.4" text-anchor="middle" stroke="#000" stroke-width="0.50">2.0</text>
<text transform="translate(724.40 71.00) scale(0.9800 1)" font-size="18.4" text-anchor="end" stroke="#000" stroke-width="0.50">180</text>
<text transform="translate(724.40 142.73) scale(0.9800 1)" font-size="18.4" text-anchor="end" stroke="#000" stroke-width="0.50">150</text>
<text transform="translate(724.40 214.47) scale(0.9800 1)" font-size="18.4" text-anchor="end" stroke="#000" stroke-width="0.50">120</text>
<text transform="translate(724.40 286.20) scale(0.9800 1)" font-size="18.4" text-anchor="end" stroke="#000" stroke-width="0.50">90</text>
<text transform="translate(724.40 357.93) scale(0.9800 1)" font-size="18.4" text-anchor="end" stroke="#000" stroke-width="0.50">60</text>
<text transform="translate(724.40 429.67) scale(0.9800 1)" font-size="18.4" text-anchor="end" stroke="#000" stroke-width="0.50">30</text>
<text transform="translate(724.40 501.40) scale(0.9800 1)" font-size="18.4" text-anchor="end" stroke="#000" stroke-width="0.50">0</text>
<text transform="translate(963.70 564.90) scale(1.0120 1)" font-size="22.2" text-anchor="middle" stroke="#000" stroke-width="0.50">Time (ns)</text>
<text transform="translate(683.90 280.40) rotate(-90) scale(1.0120 1)" font-size="22.2" text-anchor="middle" stroke="#000" stroke-width="0.50">Excitation angle (°)</text>
<text transform="translate(653.10 35.20) scale(1.0200 1)" font-size="41" font-weight="bold" stroke="#000" stroke-width="0.40">(b)</text>
<path d="M1023.3 65.4L1025.3 72.7L1027.2 80.0L1029.0 87.2L1030.6 94.5L1032.2 101.8L1033.6 109.1L1035.0 116.3L1036.3 123.6L1037.5 130.9L1038.6 138.2L1039.7 145.4L1040.7 152.7L1041.6 160.0L1042.5 167.3L1043.2 174.6L1044.0 181.8L1044.7 189.1L1045.3 196.4L1045.9 203.7L1046.4 210.9L1046.9 218.2L1047.3 225.5L1047.6 232.8L1047.9 240.0L1048.2 247.3L1048.4 254.6L1048.6 261.9L1048.7 269.1L1048.8 276.4L1048.8 283.7L1048.8 291.0L1048.7 298.3L1048.6 305.5L1048.4 312.8L1048.2 320.1L1047.9 327.4L1047.6 334.6L1047.2 341.9L1046.8 349.2L1046.4 356.5L1045.8 363.7L1045.3 371.0L1044.6 378.3L1043.9 385.6L1043.2 392.9L1042.4 400.1L1041.5 407.4L1040.6 414.7L1039.6 422.0L1038.6 429.2L1037.4 436.5L1036.2 443.8L1034.9 451.1L1033.6 458.3L1032.1 465.6L1030.6 472.9L1028.9 480.2L1027.1 487.4L1025.2 494.7L1023.2 502.0" fill="none" stroke="#000" stroke-width="3.6" stroke-dasharray="9.8 3.2"/>
<rect x="1221.10" y="67.40" width="30.20" height="430.30" fill="#ed2024"/>
<rect x="1221.10" y="75.68" width="30.20" height="422.02" fill="#ed2024"/>
<rect x="1221.10" y="83.95" width="30.20" height="413.75" fill="#ed2024"/>
<rect x="1221.10" y="92.22" width="30.20" height="405.48" fill="#ed2024"/>
<rect x="1221.10" y="100.50" width="30.20" height="397.20" fill="#ed282b"/>
<rect x="1221.10" y="108.78" width="30.20" height="388.92" fill="#ee2f33"/>
<rect x="1221.10" y="117.05" width="30.20" height="380.65" fill="#ee373a"/>
<rect x="1221.10" y="125.32" width="30.20" height="372.38" fill="#ef4144"/>
<rect x="1221.10" y="133.60" width="30.20" height="364.10" fill="#f04b4e"/>
<rect x="1221.10" y="141.88" width="30.20" height="355.82" fill="#f05357"/>
<rect x="1221.10" y="150.15" width="30.20" height="347.55" fill="#f15c5f"/>
<rect x="1221.10" y="158.42" width="30.20" height="339.27" fill="#f16468"/>
<rect x="1221.10" y="166.70" width="30.20" height="331.00" fill="#f27073"/>
<rect x="1221.10" y="174.97" width="30.20" height="322.73" fill="#f37b7e"/>
<rect x="1221.10" y="183.25" width="30.20" height="314.45" fill="#f48789"/>
<rect x="1221.10" y="191.52" width="30.20" height="306.18" fill="#f59193"/>
<rect x="1221.10" y="199.80" width="30.20" height="297.90" fill="#f69b9e"/>
<rect x="1221.10" y="208.07" width="30.20" height="289.62" fill="#f7a5a8"/>
<rect x="1221.10" y="216.35" width="30.20" height="281.35" fill="#f8b1b3"/>
<rect x="1221.10" y="224.62" width="30.20" height="273.08" fill="#f9bcbf"/>
<rect x="1221.10" y="232.90" width="30.20" height="264.80" fill="#fac8ca"/>
<rect x="1221.10" y="241.17" width="30.20" height="256.52" fill="#fbd1d3"/>
<rect x="1221.10" y="249.45" width="30.20" height="248.25" fill="#fcdbdb"/>
<rect x="1221.10" y="257.72" width="30.20" height="239.98" fill="#fde4e4"/>
<rect x="1221.10" y="266.00" width="30.20" height="231.70" fill="#feeeec"/>
<rect x="1221.10" y="274.27" width="30.20" height="223.43" fill="#fff8f5"/>
<rect x="1221.10" y="282.55" width="30.20" height="215.15" fill="#f8f7fc"/>
<rect x="1221.10" y="290.82" width="30.20" height="206.88" fill="#f0eff8"/>
<rect x="1221.10" y="299.10" width="30.20" height="198.60" fill="#e8e7f5"/>
<rect x="1221.10" y="307.38" width="30.20" height="190.32" fill="#dfdef0"/>
<rect x="1221.10" y="315.65" width="30.20" height="182.05" fill="#d6d4ec"/>
<rect x="1221.10" y="323.92" width="30.20" height="173.78" fill="#cdcbe7"/>
<rect x="1221.10" y="332.20" width="30.20" height="165.50" fill="#c2c0e1"/>
<rect x="1221.10" y="340.47" width="30.20" height="157.23" fill="#b7b5dc"/>
<rect x="1221.10" y="348.75" width="30.20" height="148.95" fill="#acaad6"/>
<rect x="1221.10" y="357.02" width="30.20" height="140.68" fill="#a1a0d0"/>
<rect x="1221.10" y="365.30" width="30.20" height="132.40" fill="#9796cb"/>
<rect x="1221.10" y="373.57" width="30.20" height="124.13" fill="#8c8cc5"/>
<rect x="1221.10" y="381.85" width="30.20" height="115.85" fill="#8383c0"/>
<rect x="1221.10" y="390.12" width="30.20" height="107.57" fill="#797bbc"/>
<rect x="1221.10" y="398.40" width="30.20" height="99.30" fill="#7072b7"/>
<rect x="1221.10" y="406.67" width="30.20" height="91.03" fill="#696db4"/>
<rect x="1221.10" y="414.95" width="30.20" height="82.75" fill="#6169b1"/>
<rect x="1221.10" y="423.22" width="30.20" height="74.48" fill="#5a64ae"/>
<rect x="1221.10" y="431.50" width="30.20" height="66.20" fill="#5561ac"/>
<rect x="1221.10" y="439.77" width="30.20" height="57.93" fill="#505eaa"/>
<rect x="1221.10" y="448.05" width="30.20" height="49.65" fill="#4b5ba8"/>
<rect x="1221.10" y="456.32" width="30.20" height="41.38" fill="#4859a7"/>
<rect x="1221.10" y="464.60" width="30.20" height="33.10" fill="#4457a6"/>
<rect x="1221.10" y="472.87" width="30.20" height="24.83" fill="#4155a5"/>
<rect x="1221.10" y="481.15" width="30.20" height="16.55" fill="#4054a4"/>
<rect x="1221.10" y="489.42" width="30.20" height="8.28" fill="#3e53a4"/>
<rect x="1221.10" y="67.40" width="30.20" height="430.30" fill="none" stroke="#000" stroke-width="2.00"/>
<text transform="translate(1264.70 80.48) scale(0.9500 1)" font-size="12.8" stroke="#000" stroke-width="0.35">1.000E+00</text>
<text transform="translate(1264.70 163.23) scale(0.9500 1)" font-size="12.8" stroke="#000" stroke-width="0.35">3.466E-01</text>
<text transform="translate(1264.70 245.97) scale(0.9500 1)" font-size="12.8" stroke="#000" stroke-width="0.35">1.201E-01</text>
<text transform="translate(1264.70 328.72) scale(0.9500 1)" font-size="12.8" stroke="#000" stroke-width="0.35">4.163E-02</text>
<text transform="translate(1264.70 411.47) scale(0.9500 1)" font-size="12.8" stroke="#000" stroke-width="0.35">1.443E-02</text>
<text transform="translate(1264.70 494.22) scale(0.9500 1)" font-size="12.8" stroke="#000" stroke-width="0.35">5.000E-03</text>
<path d="M1251.30 75.68h8M1251.30 158.43h8M1251.30 241.17h8M1251.30 323.92h8M1251.30 406.67h8M1251.30 489.42h8" stroke="#000" stroke-width="2.00" fill="none"/>
<text transform="translate(1309.60 52.60) scale(1.0120 1)" font-size="22.2" text-anchor="end" stroke="#000" stroke-width="0.50">Normalized PL</text></g>
<g id="panel-c"><rect x="1411.40" y="65.40" width="449.00" height="430.40" fill="#f7a5a8"/>
<rect x="1414.21" y="65.40" width="446.19" height="430.40" fill="#f6989b"/>
<rect x="1419.82" y="65.40" width="440.58" height="430.40" fill="#f37b7e"/>
<rect x="1425.43" y="65.40" width="434.97" height="430.40" fill="#f16468"/>
<rect x="1431.04" y="65.40" width="429.36" height="430.40" fill="#f05357"/>
<rect x="1436.66" y="65.40" width="423.74" height="430.40" fill="#f04649"/>
<rect x="1442.27" y="65.40" width="418.13" height="430.40" fill="#ee373a"/>
<rect x="1447.88" y="65.40" width="412.52" height="430.40" fill="#ee2f33"/>
<rect x="1453.49" y="65.40" width="406.91" height="430.40" fill="#ed282b"/>
<rect x="1459.11" y="65.40" width="401.29" height="430.40" fill="#ed2024"/>
<rect x="1509.62" y="65.40" width="350.78" height="430.40" fill="#ed2024"/>
<rect x="1515.23" y="65.40" width="345.17" height="430.40" fill="#ed2226"/>
<rect x="1520.84" y="65.40" width="339.56" height="430.40" fill="#ed2428"/>
<rect x="1526.46" y="65.40" width="333.94" height="430.40" fill="#ee2c2f"/>
<rect x="1532.07" y="65.40" width="328.33" height="430.40" fill="#ee3336"/>
<rect x="1537.68" y="65.40" width="322.72" height="430.40" fill="#ee3c3f"/>
<rect x="1543.29" y="65.40" width="317.11" height="430.40" fill="#f04649"/>
<rect x="1548.91" y="65.40" width="311.49" height="430.40" fill="#f04f52"/>
<rect x="1554.52" y="65.40" width="305.88" height="430.40" fill="#f05559"/>
<rect x="1560.13" y="65.40" width="300.27" height="430.40" fill="#f15c5f"/>
<rect x="1565.74" y="65.40" width="294.66" height="430.40" fill="#f16468"/>
<rect x="1571.36" y="65.40" width="289.04" height="430.40" fill="#f27073"/>
<rect x="1576.97" y="65.40" width="283.43" height="430.40" fill="#f37b7e"/>
<rect x="1582.58" y="65.40" width="277.82" height="430.40" fill="#f48789"/>
<rect x="1588.19" y="65.40" width="272.21" height="430.40" fill="#f69b9e"/>
<rect x="1593.81" y="65.40" width="266.59" height="430.40" fill="#f8abae"/>
<rect x="1599.42" y="65.40" width="260.98" height="430.40" fill="#f8b1b3"/>
<rect x="1605.03" y="65.40" width="255.37" height="430.40" fill="#f9bcbf"/>
<rect x="1610.64" y="65.40" width="249.76" height="430.40" fill="#fac8ca"/>
<rect x="1616.26" y="65.40" width="244.14" height="430.40" fill="#fbcfd0"/>
<rect x="1621.87" y="65.40" width="238.53" height="430.40" fill="#fcd6d7"/>
<rect x="1627.48" y="65.40" width="232.92" height="430.40" fill="#fcdfe0"/>
<rect x="1638.71" y="65.40" width="221.69" height="430.40" fill="#fde4e4"/>
<rect x="1644.32" y="65.40" width="216.08" height="430.40" fill="#feeeec"/>
<rect x="1649.93" y="65.40" width="210.47" height="430.40" fill="#fff8f5"/>
<rect x="1655.54" y="65.40" width="204.86" height="430.40" fill="#f8f7fc"/>
<rect x="1661.16" y="65.40" width="199.24" height="430.40" fill="#f0eff8"/>
<rect x="1666.77" y="65.40" width="193.63" height="430.40" fill="#eae9f6"/>
<rect x="1672.38" y="65.40" width="188.02" height="430.40" fill="#e4e2f3"/>
<rect x="1677.99" y="65.40" width="182.41" height="430.40" fill="#dad9ee"/>
<rect x="1683.61" y="65.40" width="176.79" height="430.40" fill="#d4d2ea"/>
<rect x="1689.22" y="65.40" width="171.18" height="430.40" fill="#cdcbe7"/>
<rect x="1694.83" y="65.40" width="165.57" height="430.40" fill="#c2c0e1"/>
<rect x="1700.44" y="65.40" width="159.96" height="430.40" fill="#b7b5dc"/>
<rect x="1706.06" y="65.40" width="154.34" height="430.40" fill="#a7a5d3"/>
<rect x="1711.67" y="65.40" width="148.73" height="430.40" fill="#b7b5dc"/>
<rect x="1717.28" y="65.40" width="143.12" height="430.40" fill="#acaad6"/>
<rect x="1722.89" y="65.40" width="137.51" height="430.40" fill="#a1a0d0"/>
<rect x="1728.51" y="65.40" width="131.89" height="430.40" fill="#9796cb"/>
<rect x="1734.12" y="65.40" width="126.28" height="430.40" fill="#8f8ec6"/>
<rect x="1739.73" y="65.40" width="120.67" height="430.40" fill="#8788c3"/>
<rect x="1745.34" y="65.40" width="115.06" height="430.40" fill="#7e7fbe"/>
<rect x="1750.96" y="65.40" width="109.44" height="430.40" fill="#7778ba"/>
<rect x="1756.57" y="65.40" width="103.83" height="430.40" fill="#7274b8"/>
<rect x="1762.18" y="65.40" width="98.22" height="430.40" fill="#6e71b6"/>
<rect x="1767.79" y="65.40" width="92.61" height="430.40" fill="#696db4"/>
<rect x="1773.41" y="65.40" width="86.99" height="430.40" fill="#636ab2"/>
<rect x="1779.02" y="65.40" width="81.38" height="430.40" fill="#5e66b0"/>
<rect x="1784.63" y="65.40" width="75.77" height="430.40" fill="#5862ad"/>
<rect x="1807.08" y="65.40" width="53.32" height="430.40" fill="#4b5ba8"/>
<rect x="1829.53" y="65.40" width="30.87" height="430.40" fill="#4457a6"/>
<rect x="1411.40" y="104.00" width="449.00" height="391.80" fill="#f69b9e"/>
<rect x="1414.21" y="104.00" width="446.19" height="391.80" fill="#f59193"/>
<rect x="1419.82" y="104.00" width="440.58" height="391.80" fill="#f37b7e"/>
<rect x="1425.43" y="104.00" width="434.97" height="391.80" fill="#f26a6e"/>
<rect x="1431.04" y="104.00" width="429.36" height="391.80" fill="#f15c5f"/>
<rect x="1436.66" y="104.00" width="423.74" height="391.80" fill="#f04b4e"/>
<rect x="1442.27" y="104.00" width="418.13" height="391.80" fill="#ee3c3f"/>
<rect x="1447.88" y="104.00" width="412.52" height="391.80" fill="#ee2f33"/>
<rect x="1453.49" y="104.00" width="406.91" height="391.80" fill="#ed2024"/>
<rect x="1509.62" y="104.00" width="350.78" height="391.80" fill="#ed2024"/>
<rect x="1515.23" y="104.00" width="345.17" height="391.80" fill="#ed2226"/>
<rect x="1520.84" y="104.00" width="339.56" height="391.80" fill="#ed2428"/>
<rect x="1526.46" y="104.00" width="333.94" height="391.80" fill="#ed2a2d"/>
<rect x="1532.07" y="104.00" width="328.33" height="391.80" fill="#ee2f33"/>
<rect x="1537.68" y="104.00" width="322.72" height="391.80" fill="#ee3538"/>
<rect x="1543.29" y="104.00" width="317.11" height="391.80" fill="#ee3a3c"/>
<rect x="1548.91" y="104.00" width="311.49" height="391.80" fill="#ef4144"/>
<rect x="1554.52" y="104.00" width="305.88" height="391.80" fill="#f0484c"/>
<rect x="1560.13" y="104.00" width="300.27" height="391.80" fill="#f04f52"/>
<rect x="1565.74" y="104.00" width="294.66" height="391.80" fill="#f0585b"/>
<rect x="1571.36" y="104.00" width="289.04" height="391.80" fill="#f16468"/>
<rect x="1576.97" y="104.00" width="283.43" height="391.80" fill="#f27073"/>
<rect x="1582.58" y="104.00" width="277.82" height="391.80" fill="#f37b7e"/>
<rect x="1588.19" y="104.00" width="272.21" height="391.80" fill="#f48a8c"/>
<rect x="1593.81" y="104.00" width="266.59" height="391.80" fill="#f69698"/>
<rect x="1599.42" y="104.00" width="260.98" height="391.80" fill="#f6a0a3"/>
<rect x="1605.03" y="104.00" width="255.37" height="391.80" fill="#f8abae"/>
<rect x="1610.64" y="104.00" width="249.76" height="391.80" fill="#f8b6b9"/>
<rect x="1616.26" y="104.00" width="244.14" height="391.80" fill="#fac2c4"/>
<rect x="1621.87" y="104.00" width="238.53" height="391.80" fill="#facdce"/>
<rect x="1627.48" y="104.00" width="232.92" height="391.80" fill="#fbd4d5"/>
<rect x="1633.09" y="104.00" width="227.31" height="391.80" fill="#fcd6d7"/>
<rect x="1638.71" y="104.00" width="221.69" height="391.80" fill="#fcdfe0"/>
<rect x="1644.32" y="104.00" width="216.08" height="391.80" fill="#feeeec"/>
<rect x="1649.93" y="104.00" width="210.47" height="391.80" fill="#fff8f5"/>
<rect x="1655.54" y="104.00" width="204.86" height="391.80" fill="#fcf8f8"/>
<rect x="1661.16" y="104.00" width="199.24" height="391.80" fill="#f8f7fc"/>
<rect x="1666.77" y="104.00" width="193.63" height="391.80" fill="#ecebf7"/>
<rect x="1672.38" y="104.00" width="188.02" height="391.80" fill="#e6e5f4"/>
<rect x="1677.99" y="104.00" width="182.41" height="391.80" fill="#e1e0f2"/>
<rect x="1683.61" y="104.00" width="176.79" height="391.80" fill="#dad9ee"/>
<rect x="1689.22" y="104.00" width="171.18" height="391.80" fill="#d2d0e9"/>
<rect x="1694.83" y="104.00" width="165.57" height="391.80" fill="#cac8e6"/>
<rect x="1700.44" y="104.00" width="159.96" height="391.80" fill="#c5c3e3"/>
<rect x="1706.06" y="104.00" width="154.34" height="391.80" fill="#bfbde0"/>
<rect x="1711.67" y="104.00" width="148.73" height="391.80" fill="#b7b5dc"/>
<rect x="1717.28" y="104.00" width="143.12" height="391.80" fill="#acaad6"/>
<rect x="1722.89" y="104.00" width="137.51" height="391.80" fill="#a4a2d2"/>
<rect x="1728.51" y="104.00" width="131.89" height="391.80" fill="#9f9ecf"/>
<rect x="1734.12" y="104.00" width="126.28" height="391.80" fill="#9998cc"/>
<rect x="1739.73" y="104.00" width="120.67" height="391.80" fill="#9191c8"/>
<rect x="1745.34" y="104.00" width="115.06" height="391.80" fill="#8788c3"/>
<rect x="1750.96" y="104.00" width="109.44" height="391.80" fill="#7e7fbe"/>
<rect x="1756.57" y="104.00" width="103.83" height="391.80" fill="#7778ba"/>
<rect x="1762.18" y="104.00" width="98.22" height="391.80" fill="#7072b7"/>
<rect x="1767.79" y="104.00" width="92.61" height="391.80" fill="#6c70b6"/>
<rect x="1773.41" y="104.00" width="86.99" height="391.80" fill="#676cb3"/>
<rect x="1779.02" y="104.00" width="81.38" height="391.80" fill="#6169b1"/>
<rect x="1807.08" y="104.00" width="53.32" height="391.80" fill="#5a64ae"/>
<rect x="1812.69" y="104.00" width="47.71" height="391.80" fill="#5460ac"/>
<rect x="1818.31" y="104.00" width="42.09" height="391.80" fill="#4b5ba8"/>
<rect x="1840.76" y="104.00" width="19.64" height="391.80" fill="#4457a6"/>
<rect x="1411.40" y="176.00" width="449.00" height="319.80" fill="#f7a5a8"/>
<rect x="1414.21" y="176.00" width="446.19" height="319.80" fill="#f6989b"/>
<rect x="1419.82" y="176.00" width="440.58" height="319.80" fill="#f37b7e"/>
<rect x="1425.43" y="176.00" width="434.97" height="319.80" fill="#f26a6e"/>
<rect x="1431.04" y="176.00" width="429.36" height="319.80" fill="#f05357"/>
<rect x="1436.66" y="176.00" width="423.74" height="319.80" fill="#f04b4e"/>
<rect x="1442.27" y="176.00" width="418.13" height="319.80" fill="#ee373a"/>
<rect x="1447.88" y="176.00" width="412.52" height="319.80" fill="#ee2f33"/>
<rect x="1453.49" y="176.00" width="406.91" height="319.80" fill="#ed282b"/>
<rect x="1459.11" y="176.00" width="401.29" height="319.80" fill="#ed2024"/>
<rect x="1509.62" y="176.00" width="350.78" height="319.80" fill="#ed2024"/>
<rect x="1515.23" y="176.00" width="345.17" height="319.80" fill="#ed2226"/>
<rect x="1520.84" y="176.00" width="339.56" height="319.80" fill="#ed2428"/>
<rect x="1526.46" y="176.00" width="333.94" height="319.80" fill="#ee2c2f"/>
<rect x="1532.07" y="176.00" width="328.33" height="319.80" fill="#ee3134"/>
<rect x="1537.68" y="176.00" width="322.72" height="319.80" fill="#ee373a"/>
<rect x="1543.29" y="176.00" width="317.11" height="319.80" fill="#ef4144"/>
<rect x="1548.91" y="176.00" width="311.49" height="319.80" fill="#f0484c"/>
<rect x="1554.52" y="176.00" width="305.88" height="319.80" fill="#f04f52"/>
<rect x="1560.13" y="176.00" width="300.27" height="319.80" fill="#f15c5f"/>
<rect x="1565.74" y="176.00" width="294.66" height="319.80" fill="#f16468"/>
<rect x="1571.36" y="176.00" width="289.04" height="319.80" fill="#f27073"/>
<rect x="1576.97" y="176.00" width="283.43" height="319.80" fill="#f37b7e"/>
<rect x="1582.58" y="176.00" width="277.82" height="319.80" fill="#f48789"/>
<rect x="1588.19" y="176.00" width="272.21" height="319.80" fill="#f59496"/>
<rect x="1593.81" y="176.00" width="266.59" height="319.80" fill="#f6a0a3"/>
<rect x="1599.42" y="176.00" width="260.98" height="319.80" fill="#f8b1b3"/>
<rect x="1605.03" y="176.00" width="255.37" height="319.80" fill="#f9bcbf"/>
<rect x="1610.64" y="176.00" width="249.76" height="319.80" fill="#fac8ca"/>
<rect x="1616.26" y="176.00" width="244.14" height="319.80" fill="#fbd1d3"/>
<rect x="1621.87" y="176.00" width="238.53" height="319.80" fill="#fcd6d7"/>
<rect x="1627.48" y="176.00" width="232.92" height="319.80" fill="#fcddde"/>
<rect x="1633.09" y="176.00" width="227.31" height="319.80" fill="#fde2e2"/>
<rect x="1638.71" y="176.00" width="221.69" height="319.80" fill="#fee9e8"/>
<rect x="1644.32" y="176.00" width="216.08" height="319.80" fill="#fef3f1"/>
<rect x="1649.93" y="176.00" width="210.47" height="319.80" fill="#fff8f5"/>
<rect x="1655.54" y="176.00" width="204.86" height="319.80" fill="#f8f7fc"/>
<rect x="1661.16" y="176.00" width="199.24" height="319.80" fill="#f0eff8"/>
<rect x="1666.77" y="176.00" width="193.63" height="319.80" fill="#eae9f6"/>
<rect x="1672.38" y="176.00" width="188.02" height="319.80" fill="#e4e2f3"/>
<rect x="1677.99" y="176.00" width="182.41" height="319.80" fill="#dad9ee"/>
<rect x="1683.61" y="176.00" width="176.79" height="319.80" fill="#cdcbe7"/>
<rect x="1689.22" y="176.00" width="171.18" height="319.80" fill="#c5c3e3"/>
<rect x="1694.83" y="176.00" width="165.57" height="319.80" fill="#bfbde0"/>
<rect x="1700.44" y="176.00" width="159.96" height="319.80" fill="#b7b5dc"/>
<rect x="1706.06" y="176.00" width="154.34" height="319.80" fill="#acaad6"/>
<rect x="1711.67" y="176.00" width="148.73" height="319.80" fill="#a4a2d2"/>
<rect x="1717.28" y="176.00" width="143.12" height="319.80" fill="#9f9ecf"/>
<rect x="1722.89" y="176.00" width="137.51" height="319.80" fill="#9998cc"/>
<rect x="1728.51" y="176.00" width="131.89" height="319.80" fill="#9494c9"/>
<rect x="1734.12" y="176.00" width="126.28" height="319.80" fill="#8f8ec6"/>
<rect x="1739.73" y="176.00" width="120.67" height="319.80" fill="#8788c3"/>
<rect x="1745.34" y="176.00" width="115.06" height="319.80" fill="#797bbc"/>
<rect x="1750.96" y="176.00" width="109.44" height="319.80" fill="#7576b9"/>
<rect x="1756.57" y="176.00" width="103.83" height="319.80" fill="#7072b7"/>
<rect x="1762.18" y="176.00" width="98.22" height="319.80" fill="#6c70b6"/>
<rect x="1767.79" y="176.00" width="92.61" height="319.80" fill="#676cb3"/>
<rect x="1773.41" y="176.00" width="86.99" height="319.80" fill="#6068b0"/>
<rect x="1779.02" y="176.00" width="81.38" height="319.80" fill="#5862ad"/>
<rect x="1807.08" y="176.00" width="53.32" height="319.80" fill="#4e5ca9"/>
<rect x="1829.53" y="176.00" width="30.87" height="319.80" fill="#4457a6"/>
<rect x="1411.40" y="248.00" width="449.00" height="247.80" fill="#f7a5a8"/>
<rect x="1414.21" y="248.00" width="446.19" height="247.80" fill="#f6989b"/>
<rect x="1419.82" y="248.00" width="440.58" height="247.80" fill="#f37b7e"/>
<rect x="1425.43" y="248.00" width="434.97" height="247.80" fill="#f27073"/>
<rect x="1431.04" y="248.00" width="429.36" height="247.80" fill="#f15c5f"/>
<rect x="1436.66" y="248.00" width="423.74" height="247.80" fill="#f05357"/>
<rect x="1442.27" y="248.00" width="418.13" height="247.80" fill="#ee3c3f"/>
<rect x="1447.88" y="248.00" width="412.52" height="247.80" fill="#ee2f33"/>
<rect x="1453.49" y="248.00" width="406.91" height="247.80" fill="#ed282b"/>
<rect x="1459.11" y="248.00" width="401.29" height="247.80" fill="#ed2024"/>
<rect x="1515.23" y="248.00" width="345.17" height="247.80" fill="#ed2024"/>
<rect x="1520.84" y="248.00" width="339.56" height="247.80" fill="#ed2226"/>
<rect x="1526.46" y="248.00" width="333.94" height="247.80" fill="#ed2428"/>
<rect x="1532.07" y="248.00" width="328.33" height="247.80" fill="#ee2c2f"/>
<rect x="1537.68" y="248.00" width="322.72" height="247.80" fill="#ee3336"/>
<rect x="1543.29" y="248.00" width="317.11" height="247.80" fill="#ee373a"/>
<rect x="1548.91" y="248.00" width="311.49" height="247.80" fill="#ef4144"/>
<rect x="1554.52" y="248.00" width="305.88" height="247.80" fill="#f04649"/>
<rect x="1560.13" y="248.00" width="300.27" height="247.80" fill="#f04f52"/>
<rect x="1565.74" y="248.00" width="294.66" height="247.80" fill="#f0585b"/>
<rect x="1571.36" y="248.00" width="289.04" height="247.80" fill="#f16064"/>
<rect x="1576.97" y="248.00" width="283.43" height="247.80" fill="#f1676b"/>
<rect x="1582.58" y="248.00" width="277.82" height="247.80" fill="#f27073"/>
<rect x="1588.19" y="248.00" width="272.21" height="247.80" fill="#f48789"/>
<rect x="1593.81" y="248.00" width="266.59" height="247.80" fill="#f69698"/>
<rect x="1599.42" y="248.00" width="260.98" height="247.80" fill="#f7a5a8"/>
<rect x="1605.03" y="248.00" width="255.37" height="247.80" fill="#f8aeb0"/>
<rect x="1610.64" y="248.00" width="249.76" height="247.80" fill="#f8b6b9"/>
<rect x="1616.26" y="248.00" width="244.14" height="247.80" fill="#fac2c4"/>
<rect x="1621.87" y="248.00" width="238.53" height="247.80" fill="#facdce"/>
<rect x="1627.48" y="248.00" width="232.92" height="247.80" fill="#fbcfd0"/>
<rect x="1633.09" y="248.00" width="227.31" height="247.80" fill="#fbd1d3"/>
<rect x="1638.71" y="248.00" width="221.69" height="247.80" fill="#fcdbdb"/>
<rect x="1644.32" y="248.00" width="216.08" height="247.80" fill="#fde4e4"/>
<rect x="1649.93" y="248.00" width="210.47" height="247.80" fill="#fef3f1"/>
<rect x="1655.54" y="248.00" width="204.86" height="247.80" fill="#fcf8f8"/>
<rect x="1661.16" y="248.00" width="199.24" height="247.80" fill="#faf7fa"/>
<rect x="1666.77" y="248.00" width="193.63" height="247.80" fill="#f4f3fa"/>
<rect x="1672.38" y="248.00" width="188.02" height="247.80" fill="#ecebf7"/>
<rect x="1677.99" y="248.00" width="182.41" height="247.80" fill="#e6e5f4"/>
<rect x="1683.61" y="248.00" width="176.79" height="247.80" fill="#e1e0f2"/>
<rect x="1689.22" y="248.00" width="171.18" height="247.80" fill="#dad9ee"/>
<rect x="1694.83" y="248.00" width="165.57" height="247.80" fill="#d2d0e9"/>
<rect x="1700.44" y="248.00" width="159.96" height="247.80" fill="#cac8e6"/>
<rect x="1706.06" y="248.00" width="154.34" height="247.80" fill="#c2c0e1"/>
<rect x="1711.67" y="248.00" width="148.73" height="247.80" fill="#bab8dd"/>
<rect x="1717.28" y="248.00" width="143.12" height="247.80" fill="#b2b0d9"/>
<rect x="1722.89" y="248.00" width="137.51" height="247.80" fill="#a7a5d3"/>
<rect x="1728.51" y="248.00" width="131.89" height="247.80" fill="#9c9bce"/>
<rect x="1734.12" y="248.00" width="126.28" height="247.80" fill="#9796cb"/>
<rect x="1739.73" y="248.00" width="120.67" height="247.80" fill="#9191c8"/>
<rect x="1745.34" y="248.00" width="115.06" height="247.80" fill="#8c8cc5"/>
<rect x="1750.96" y="248.00" width="109.44" height="247.80" fill="#8788c3"/>
<rect x="1756.57" y="248.00" width="103.83" height="247.80" fill="#7e7fbe"/>
<rect x="1762.18" y="248.00" width="98.22" height="247.80" fill="#7778ba"/>
<rect x="1767.79" y="248.00" width="92.61" height="247.80" fill="#7072b7"/>
<rect x="1773.41" y="248.00" width="86.99" height="247.80" fill="#6c70b6"/>
<rect x="1779.02" y="248.00" width="81.38" height="247.80" fill="#696db4"/>
<rect x="1784.63" y="248.00" width="75.77" height="247.80" fill="#6169b1"/>
<rect x="1790.24" y="248.00" width="70.16" height="247.80" fill="#5a64ae"/>
<rect x="1818.31" y="248.00" width="42.09" height="247.80" fill="#4b5ba8"/>
<rect x="1411.40" y="319.00" width="449.00" height="176.80" fill="#f7a5a8"/>
<rect x="1414.21" y="319.00" width="446.19" height="176.80" fill="#f6989b"/>
<rect x="1419.82" y="319.00" width="440.58" height="176.80" fill="#f37b7e"/>
<rect x="1425.43" y="319.00" width="434.97" height="176.80" fill="#f26a6e"/>
<rect x="1431.04" y="319.00" width="429.36" height="176.80" fill="#f05357"/>
<rect x="1436.66" y="319.00" width="423.74" height="176.80" fill="#f04b4e"/>
<rect x="1442.27" y="319.00" width="418.13" height="176.80" fill="#ee373a"/>
<rect x="1447.88" y="319.00" width="412.52" height="176.80" fill="#ee2f33"/>
<rect x="1453.49" y="319.00" width="406.91" height="176.80" fill="#ed282b"/>
<rect x="1459.11" y="319.00" width="401.29" height="176.80" fill="#ed2024"/>
<rect x="1509.62" y="319.00" width="350.78" height="176.80" fill="#ed2024"/>
<rect x="1515.23" y="319.00" width="345.17" height="176.80" fill="#ed2226"/>
<rect x="1520.84" y="319.00" width="339.56" height="176.80" fill="#ed2428"/>
<rect x="1526.46" y="319.00" width="333.94" height="176.80" fill="#ee2c2f"/>
<rect x="1532.07" y="319.00" width="328.33" height="176.80" fill="#ee3134"/>
<rect x="1537.68" y="319.00" width="322.72" height="176.80" fill="#ee373a"/>
<rect x="1543.29" y="319.00" width="317.11" height="176.80" fill="#ef4144"/>
<rect x="1548.91" y="319.00" width="311.49" height="176.80" fill="#f04b4e"/>
<rect x="1554.52" y="319.00" width="305.88" height="176.80" fill="#f05357"/>
<rect x="1560.13" y="319.00" width="300.27" height="176.80" fill="#f16064"/>
<rect x="1565.74" y="319.00" width="294.66" height="176.80" fill="#f26a6e"/>
<rect x="1571.36" y="319.00" width="289.04" height="176.80" fill="#f27376"/>
<rect x="1576.97" y="319.00" width="283.43" height="176.80" fill="#f37b7e"/>
<rect x="1582.58" y="319.00" width="277.82" height="176.80" fill="#f48789"/>
<rect x="1588.19" y="319.00" width="272.21" height="176.80" fill="#f59496"/>
<rect x="1593.81" y="319.00" width="266.59" height="176.80" fill="#f7a2a5"/>
<rect x="1599.42" y="319.00" width="260.98" height="176.80" fill="#f8b1b3"/>
<rect x="1605.03" y="319.00" width="255.37" height="176.80" fill="#f9bcbf"/>
<rect x="1610.64" y="319.00" width="249.76" height="176.80" fill="#fac8ca"/>
<rect x="1616.26" y="319.00" width="244.14" height="176.80" fill="#fbd1d3"/>
<rect x="1621.87" y="319.00" width="238.53" height="176.80" fill="#fcdbdb"/>
<rect x="1627.48" y="319.00" width="232.92" height="176.80" fill="#fcdfe0"/>
<rect x="1638.71" y="319.00" width="221.69" height="176.80" fill="#fee9e8"/>
<rect x="1644.32" y="319.00" width="216.08" height="176.80" fill="#fef3f1"/>
<rect x="1649.93" y="319.00" width="210.47" height="176.80" fill="#fff8f5"/>
<rect x="1655.54" y="319.00" width="204.86" height="176.80" fill="#faf7fa"/>
<rect x="1661.16" y="319.00" width="199.24" height="176.80" fill="#f4f3fa"/>
<rect x="1666.77" y="319.00" width="193.63" height="176.80" fill="#ecebf7"/>
<rect x="1672.38" y="319.00" width="188.02" height="176.80" fill="#e4e2f3"/>
<rect x="1677.99" y="319.00" width="182.41" height="176.80" fill="#dad9ee"/>
<rect x="1683.61" y="319.00" width="176.79" height="176.80" fill="#d4d2ea"/>
<rect x="1689.22" y="319.00" width="171.18" height="176.80" fill="#cdcbe7"/>
<rect x="1694.83" y="319.00" width="165.57" height="176.80" fill="#c5c3e3"/>
<rect x="1700.44" y="319.00" width="159.96" height="176.80" fill="#bfbde0"/>
<rect x="1706.06" y="319.00" width="154.34" height="176.80" fill="#b7b5dc"/>
<rect x="1711.67" y="319.00" width="148.73" height="176.80" fill="#acaad6"/>
<rect x="1717.28" y="319.00" width="143.12" height="176.80" fill="#a1a0d0"/>
<rect x="1722.89" y="319.00" width="137.51" height="176.80" fill="#9998cc"/>
<rect x="1728.51" y="319.00" width="131.89" height="176.80" fill="#9191c8"/>
<rect x="1734.12" y="319.00" width="126.28" height="176.80" fill="#8a8ac4"/>
<rect x="1739.73" y="319.00" width="120.67" height="176.80" fill="#8586c2"/>
<rect x="1745.34" y="319.00" width="115.06" height="176.80" fill="#7e7fbe"/>
<rect x="1750.96" y="319.00" width="109.44" height="176.80" fill="#797bbc"/>
<rect x="1756.57" y="319.00" width="103.83" height="176.80" fill="#7274b8"/>
<rect x="1762.18" y="319.00" width="98.22" height="176.80" fill="#6e71b6"/>
<rect x="1767.79" y="319.00" width="92.61" height="176.80" fill="#696db4"/>
<rect x="1773.41" y="319.00" width="86.99" height="176.80" fill="#6169b1"/>
<rect x="1779.02" y="319.00" width="81.38" height="176.80" fill="#5a64ae"/>
<rect x="1807.08" y="319.00" width="53.32" height="176.80" fill="#4e5ca9"/>
<rect x="1835.14" y="319.00" width="25.26" height="176.80" fill="#4457a6"/>
<rect x="1411.40" y="392.00" width="449.00" height="103.80" fill="#f7a5a8"/>
<rect x="1414.21" y="392.00" width="446.19" height="103.80" fill="#f6989b"/>
<rect x="1419.82" y="392.00" width="440.58" height="103.80" fill="#f37b7e"/>
<rect x="1425.43" y="392.00" width="434.97" height="103.80" fill="#f26a6e"/>
<rect x="1431.04" y="392.00" width="429.36" height="103.80" fill="#f05357"/>
<rect x="1436.66" y="392.00" width="423.74" height="103.80" fill="#f04b4e"/>
<rect x="1442.27" y="392.00" width="418.13" height="103.80" fill="#ee373a"/>
<rect x="1447.88" y="392.00" width="412.52" height="103.80" fill="#ee2f33"/>
<rect x="1453.49" y="392.00" width="406.91" height="103.80" fill="#ed282b"/>
<rect x="1459.11" y="392.00" width="401.29" height="103.80" fill="#ed2024"/>
<rect x="1509.62" y="392.00" width="350.78" height="103.80" fill="#ed2024"/>
<rect x="1515.23" y="392.00" width="345.17" height="103.80" fill="#ed2226"/>
<rect x="1520.84" y="392.00" width="339.56" height="103.80" fill="#ed2428"/>
<rect x="1526.46" y="392.00" width="333.94" height="103.80" fill="#ee2c2f"/>
<rect x="1532.07" y="392.00" width="328.33" height="103.80" fill="#ee3134"/>
<rect x="1537.68" y="392.00" width="322.72" height="103.80" fill="#ee373a"/>
<rect x="1543.29" y="392.00" width="317.11" height="103.80" fill="#ef4144"/>
<rect x="1548.91" y="392.00" width="311.49" height="103.80" fill="#f04b4e"/>
<rect x="1554.52" y="392.00" width="305.88" height="103.80" fill="#f05357"/>
<rect x="1560.13" y="392.00" width="300.27" height="103.80" fill="#f16064"/>
<rect x="1565.74" y="392.00" width="294.66" height="103.80" fill="#f26a6e"/>
<rect x="1571.36" y="392.00" width="289.04" height="103.80" fill="#f27376"/>
<rect x="1576.97" y="392.00" width="283.43" height="103.80" fill="#f37b7e"/>
<rect x="1582.58" y="392.00" width="277.82" height="103.80" fill="#f48789"/>
<rect x="1588.19" y="392.00" width="272.21" height="103.80" fill="#f59496"/>
<rect x="1593.81" y="392.00" width="266.59" height="103.80" fill="#f7a2a5"/>
<rect x="1599.42" y="392.00" width="260.98" height="103.80" fill="#f8b1b3"/>
<rect x="1605.03" y="392.00" width="255.37" height="103.80" fill="#f9bcbf"/>
<rect x="1610.64" y="392.00" width="249.76" height="103.80" fill="#fac8ca"/>
<rect x="1616.26" y="392.00" width="244.14" height="103.80" fill="#fbd1d3"/>
<rect x="1621.87" y="392.00" width="238.53" height="103.80" fill="#fcdbdb"/>
<rect x="1627.48" y="392.00" width="232.92" height="103.80" fill="#fde4e4"/>
<rect x="1633.09" y="392.00" width="227.31" height="103.80" fill="#fee9e8"/>
<rect x="1638.71" y="392.00" width="221.69" height="103.80" fill="#feeeec"/>
<rect x="1644.32" y="392.00" width="216.08" height="103.80" fill="#fef3f1"/>
<rect x="1649.93" y="392.00" width="210.47" height="103.80" fill="#fff8f5"/>
<rect x="1655.54" y="392.00" width="204.86" height="103.80" fill="#f8f7fc"/>
<rect x="1661.16" y="392.00" width="199.24" height="103.80" fill="#f4f3fa"/>
<rect x="1666.77" y="392.00" width="193.63" height="103.80" fill="#ecebf7"/>
<rect x="1672.38" y="392.00" width="188.02" height="103.80" fill="#e4e2f3"/>
<rect x="1677.99" y="392.00" width="182.41" height="103.80" fill="#dad9ee"/>
<rect x="1683.61" y="392.00" width="176.79" height="103.80" fill="#d4d2ea"/>
<rect x="1689.22" y="392.00" width="171.18" height="103.80" fill="#cdcbe7"/>
<rect x="1694.83" y="392.00" width="165.57" height="103.80" fill="#c2c0e1"/>
<rect x="1700.44" y="392.00" width="159.96" height="103.80" fill="#bab8dd"/>
<rect x="1706.06" y="392.00" width="154.34" height="103.80" fill="#b2b0d9"/>
<rect x="1711.67" y="392.00" width="148.73" height="103.80" fill="#acaad6"/>
<rect x="1717.28" y="392.00" width="143.12" height="103.80" fill="#a4a2d2"/>
<rect x="1722.89" y="392.00" width="137.51" height="103.80" fill="#9c9bce"/>
<rect x="1728.51" y="392.00" width="131.89" height="103.80" fill="#9494c9"/>
<rect x="1734.12" y="392.00" width="126.28" height="103.80" fill="#8c8cc5"/>
<rect x="1739.73" y="392.00" width="120.67" height="103.80" fill="#8586c2"/>
<rect x="1745.34" y="392.00" width="115.06" height="103.80" fill="#7e7fbe"/>
<rect x="1750.96" y="392.00" width="109.44" height="103.80" fill="#7778ba"/>
<rect x="1756.57" y="392.00" width="103.83" height="103.80" fill="#7072b7"/>
<rect x="1762.18" y="392.00" width="98.22" height="103.80" fill="#696db4"/>
<rect x="1767.79" y="392.00" width="92.61" height="103.80" fill="#6169b1"/>
<rect x="1790.24" y="392.00" width="70.16" height="103.80" fill="#5c65af"/>
<rect x="1795.86" y="392.00" width="64.54" height="103.80" fill="#5862ad"/>
<rect x="1801.47" y="392.00" width="58.93" height="103.80" fill="#5260ab"/>
<rect x="1807.08" y="392.00" width="53.32" height="103.80" fill="#4e5ca9"/>
<rect x="1829.53" y="392.00" width="30.87" height="103.80" fill="#4457a6"/>
<rect x="1411.40" y="461.00" width="449.00" height="34.80" fill="#f7a5a8"/>
<rect x="1414.21" y="461.00" width="446.19" height="34.80" fill="#f6989b"/>
<rect x="1419.82" y="461.00" width="440.58" height="34.80" fill="#f37b7e"/>
<rect x="1425.43" y="461.00" width="434.97" height="34.80" fill="#f27073"/>
<rect x="1431.04" y="461.00" width="429.36" height="34.80" fill="#f15c5f"/>
<rect x="1436.66" y="461.00" width="423.74" height="34.80" fill="#f05357"/>
<rect x="1442.27" y="461.00" width="418.13" height="34.80" fill="#ee3c3f"/>
<rect x="1447.88" y="461.00" width="412.52" height="34.80" fill="#ee2f33"/>
<rect x="1453.49" y="461.00" width="406.91" height="34.80" fill="#ed282b"/>
<rect x="1459.11" y="461.00" width="401.29" height="34.80" fill="#ed2024"/>
<rect x="1515.23" y="461.00" width="345.17" height="34.80" fill="#ed2024"/>
<rect x="1520.84" y="461.00" width="339.56" height="34.80" fill="#ed2226"/>
<rect x="1526.46" y="461.00" width="333.94" height="34.80" fill="#ed2428"/>
<rect x="1532.07" y="461.00" width="328.33" height="34.80" fill="#ee2c2f"/>
<rect x="1537.68" y="461.00" width="322.72" height="34.80" fill="#ee3134"/>
<rect x="1543.29" y="461.00" width="317.11" height="34.80" fill="#ee373a"/>
<rect x="1548.91" y="461.00" width="311.49" height="34.80" fill="#ef3e42"/>
<rect x="1554.52" y="461.00" width="305.88" height="34.80" fill="#f04649"/>
<rect x="1560.13" y="461.00" width="300.27" height="34.80" fill="#f04d50"/>
<rect x="1565.74" y="461.00" width="294.66" height="34.80" fill="#f05559"/>
<rect x="1571.36" y="461.00" width="289.04" height="34.80" fill="#f15e62"/>
<rect x="1576.97" y="461.00" width="283.43" height="34.80" fill="#f16468"/>
<rect x="1582.58" y="461.00" width="277.82" height="34.80" fill="#f26d70"/>
<rect x="1588.19" y="461.00" width="272.21" height="34.80" fill="#f37e81"/>
<rect x="1593.81" y="461.00" width="266.59" height="34.80" fill="#f59193"/>
<rect x="1599.42" y="461.00" width="260.98" height="34.80" fill="#f69ea0"/>
<rect x="1605.03" y="461.00" width="255.37" height="34.80" fill="#f8abae"/>
<rect x="1610.64" y="461.00" width="249.76" height="34.80" fill="#f8b4b6"/>
<rect x="1616.26" y="461.00" width="244.14" height="34.80" fill="#f9bcbf"/>
<rect x="1621.87" y="461.00" width="238.53" height="34.80" fill="#fac8ca"/>
<rect x="1627.48" y="461.00" width="232.92" height="34.80" fill="#facdce"/>
<rect x="1633.09" y="461.00" width="227.31" height="34.80" fill="#fbcfd0"/>
<rect x="1638.71" y="461.00" width="221.69" height="34.80" fill="#fbd4d5"/>
<rect x="1644.32" y="461.00" width="216.08" height="34.80" fill="#fcddde"/>
<rect x="1649.93" y="461.00" width="210.47" height="34.80" fill="#fee9e8"/>
<rect x="1655.54" y="461.00" width="204.86" height="34.80" fill="#fff6f3"/>
<rect x="1661.16" y="461.00" width="199.24" height="34.80" fill="#fcf8f8"/>
<rect x="1666.77" y="461.00" width="193.63" height="34.80" fill="#f8f7fc"/>
<rect x="1672.38" y="461.00" width="188.02" height="34.80" fill="#f4f3fa"/>
<rect x="1677.99" y="461.00" width="182.41" height="34.80" fill="#ecebf7"/>
<rect x="1683.61" y="461.00" width="176.79" height="34.80" fill="#e6e5f4"/>
<rect x="1689.22" y="461.00" width="171.18" height="34.80" fill="#e1e0f2"/>
<rect x="1694.83" y="461.00" width="165.57" height="34.80" fill="#dad9ee"/>
<rect x="1700.44" y="461.00" width="159.96" height="34.80" fill="#d2d0e9"/>
<rect x="1706.06" y="461.00" width="154.34" height="34.80" fill="#cac8e6"/>
<rect x="1711.67" y="461.00" width="148.73" height="34.80" fill="#c2c0e1"/>
<rect x="1717.28" y="461.00" width="143.12" height="34.80" fill="#bcbade"/>
<rect x="1722.89" y="461.00" width="137.51" height="34.80" fill="#b4b2da"/>
<rect x="1728.51" y="461.00" width="131.89" height="34.80" fill="#a9a8d5"/>
<rect x="1734.12" y="461.00" width="126.28" height="34.80" fill="#9f9ecf"/>
<rect x="1739.73" y="461.00" width="120.67" height="34.80" fill="#9998cc"/>
<rect x="1745.34" y="461.00" width="115.06" height="34.80" fill="#9494c9"/>
<rect x="1750.96" y="461.00" width="109.44" height="34.80" fill="#8f8ec6"/>
<rect x="1756.57" y="461.00" width="103.83" height="34.80" fill="#8a8ac4"/>
<rect x="1762.18" y="461.00" width="98.22" height="34.80" fill="#8383c0"/>
<rect x="1767.79" y="461.00" width="92.61" height="34.80" fill="#797bbc"/>
<rect x="1773.41" y="461.00" width="86.99" height="34.80" fill="#7274b8"/>
<rect x="1779.02" y="461.00" width="81.38" height="34.80" fill="#6e71b6"/>
<rect x="1784.63" y="461.00" width="75.77" height="34.80" fill="#6a6eb5"/>
<rect x="1790.24" y="461.00" width="70.16" height="34.80" fill="#656bb2"/>
<rect x="1795.86" y="461.00" width="64.54" height="34.80" fill="#6068b0"/>
<rect x="1801.47" y="461.00" width="58.93" height="34.80" fill="#5a64ae"/>
<rect x="1823.92" y="461.00" width="36.48" height="34.80" fill="#5862ad"/>
<rect x="1829.53" y="461.00" width="30.87" height="34.80" fill="#4b5ba8"/>
<path d="M1411.40 495.80v8.5M1456.30 495.80v8.5M1501.20 495.80v8.5M1546.10 495.80v8.5M1591.00 495.80v8.5M1635.90 495.80v8.5M1680.80 495.80v8.5M1725.70 495.80v8.5M1770.60 495.80v8.5M1815.50 495.80v8.5M1860.40 495.80v8.5M1411.40 65.40h-8.5M1411.40 137.13h-8.5M1411.40 208.87h-8.5M1411.40 280.60h-8.5M1411.40 352.33h-8.5M1411.40 424.07h-8.5M1411.40 495.80h-8.5" stroke="#000" stroke-width="2.00" fill="none"/>
<rect x="1411.40" y="65.40" width="449.00" height="430.40" fill="none" stroke="#000" stroke-width="2.00"/>
<text transform="translate(1411.40 524.70) scale(0.9900 1)" font-size="18.4" text-anchor="middle" stroke="#000" stroke-width="0.50">0.0</text>
<text transform="translate(1456.30 524.70) scale(0.9900 1)" font-size="18.4" text-anchor="middle" stroke="#000" stroke-width="0.50">0.2</text>
<text transform="translate(1501.20 524.70) scale(0.9900 1)" font-size="18.4" text-anchor="middle" stroke="#000" stroke-width="0.50">0.4</text>
<text transform="translate(1546.10 524.70) scale(0.9900 1)" font-size="18.4" text-anchor="middle" stroke="#000" stroke-width="0.50">0.6</text>
<text transform="translate(1591.00 524.70) scale(0.9900 1)" font-size="18.4" text-anchor="middle" stroke="#000" stroke-width="0.50">0.8</text>
<text transform="translate(1635.90 524.70) scale(0.9900 1)" font-size="18.4" text-anchor="middle" stroke="#000" stroke-width="0.50">1.0</text>
<text transform="translate(1680.80 524.70) scale(0.9900 1)" font-size="18.4" text-anchor="middle" stroke="#000" stroke-width="0.50">1.2</text>
<text transform="translate(1725.70 524.70) scale(0.9900 1)" font-size="18.4" text-anchor="middle" stroke="#000" stroke-width="0.50">1.4</text>
<text transform="translate(1770.60 524.70) scale(0.9900 1)" font-size="18.4" text-anchor="middle" stroke="#000" stroke-width="0.50">1.6</text>
<text transform="translate(1815.50 524.70) scale(0.9900 1)" font-size="18.4" text-anchor="middle" stroke="#000" stroke-width="0.50">1.8</text>
<text transform="translate(1860.40 524.70) scale(0.9900 1)" font-size="18.4" text-anchor="middle" stroke="#000" stroke-width="0.50">2.0</text>
<text transform="translate(1397.20 71.00) scale(0.9800 1)" font-size="18.4" text-anchor="end" stroke="#000" stroke-width="0.50">180</text>
<text transform="translate(1397.20 142.73) scale(0.9800 1)" font-size="18.4" text-anchor="end" stroke="#000" stroke-width="0.50">150</text>
<text transform="translate(1397.20 214.47) scale(0.9800 1)" font-size="18.4" text-anchor="end" stroke="#000" stroke-width="0.50">120</text>
<text transform="translate(1397.20 286.20) scale(0.9800 1)" font-size="18.4" text-anchor="end" stroke="#000" stroke-width="0.50">90</text>
<text transform="translate(1397.20 357.93) scale(0.9800 1)" font-size="18.4" text-anchor="end" stroke="#000" stroke-width="0.50">60</text>
<text transform="translate(1397.20 429.67) scale(0.9800 1)" font-size="18.4" text-anchor="end" stroke="#000" stroke-width="0.50">30</text>
<text transform="translate(1397.20 501.40) scale(0.9800 1)" font-size="18.4" text-anchor="end" stroke="#000" stroke-width="0.50">0</text>
<text transform="translate(1636.50 564.90) scale(1.0120 1)" font-size="22.2" text-anchor="middle" stroke="#000" stroke-width="0.50">Time (ns)</text>
<text transform="translate(1356.70 280.40) rotate(-90) scale(1.0120 1)" font-size="22.2" text-anchor="middle" stroke="#000" stroke-width="0.50">Excitation angle (°)</text>
<text transform="translate(1341.10 35.20) scale(1.0200 1)" font-size="41" font-weight="bold" stroke="#000" stroke-width="0.40">(c)</text>
<path d="M1656.1 65.4V495.8" fill="none" stroke="#000" stroke-width="3.7" stroke-dasharray="9.8 3.1" stroke-dashoffset="5.1"/>
<rect x="1893.90" y="67.40" width="30.20" height="430.30" fill="#ed2024"/>
<rect x="1893.90" y="75.68" width="30.20" height="422.02" fill="#ed2024"/>
<rect x="1893.90" y="83.95" width="30.20" height="413.75" fill="#ed2024"/>
<rect x="1893.90" y="92.22" width="30.20" height="405.48" fill="#ed2024"/>
<rect x="1893.90" y="100.50" width="30.20" height="397.20" fill="#ed282b"/>
<rect x="1893.90" y="108.78" width="30.20" height="388.92" fill="#ee2f33"/>
<rect x="1893.90" y="117.05" width="30.20" height="380.65" fill="#ee373a"/>
<rect x="1893.90" y="125.32" width="30.20" height="372.38" fill="#ef4144"/>
<rect x="1893.90" y="133.60" width="30.20" height="364.10" fill="#f04b4e"/>
<rect x="1893.90" y="141.88" width="30.20" height="355.82" fill="#f05357"/>
<rect x="1893.90" y="150.15" width="30.20" height="347.55" fill="#f15c5f"/>
<rect x="1893.90" y="158.42" width="30.20" height="339.27" fill="#f16468"/>
<rect x="1893.90" y="166.70" width="30.20" height="331.00" fill="#f27073"/>
<rect x="1893.90" y="174.97" width="30.20" height="322.73" fill="#f37b7e"/>
<rect x="1893.90" y="183.25" width="30.20" height="314.45" fill="#f48789"/>
<rect x="1893.90" y="191.52" width="30.20" height="306.18" fill="#f59193"/>
<rect x="1893.90" y="199.80" width="30.20" height="297.90" fill="#f69b9e"/>
<rect x="1893.90" y="208.07" width="30.20" height="289.62" fill="#f7a5a8"/>
<rect x="1893.90" y="216.35" width="30.20" height="281.35" fill="#f8b1b3"/>
<rect x="1893.90" y="224.62" width="30.20" height="273.08" fill="#f9bcbf"/>
<rect x="1893.90" y="232.90" width="30.20" height="264.80" fill="#fac8ca"/>
<rect x="1893.90" y="241.17" width="30.20" height="256.52" fill="#fbd1d3"/>
<rect x="1893.90" y="249.45" width="30.20" height="248.25" fill="#fcdbdb"/>
<rect x="1893.90" y="257.72" width="30.20" height="239.98" fill="#fde4e4"/>
<rect x="1893.90" y="266.00" width="30.20" height="231.70" fill="#feeeec"/>
<rect x="1893.90" y="274.27" width="30.20" height="223.43" fill="#fff8f5"/>
<rect x="1893.90" y="282.55" width="30.20" height="215.15" fill="#f8f7fc"/>
<rect x="1893.90" y="290.82" width="30.20" height="206.88" fill="#f0eff8"/>
<rect x="1893.90" y="299.10" width="30.20" height="198.60" fill="#e8e7f5"/>
<rect x="1893.90" y="307.38" width="30.20" height="190.32" fill="#dfdef0"/>
<rect x="1893.90" y="315.65" width="30.20" height="182.05" fill="#d6d4ec"/>
<rect x="1893.90" y="323.92" width="30.20" height="173.78" fill="#cdcbe7"/>
<rect x="1893.90" y="332.20" width="30.20" height="165.50" fill="#c2c0e1"/>
<rect x="1893.90" y="340.47" width="30.20" height="157.23" fill="#b7b5dc"/>
<rect x="1893.90" y="348.75" width="30.20" height="148.95" fill="#acaad6"/>
<rect x="1893.90" y="357.02" width="30.20" height="140.68" fill="#a1a0d0"/>
<rect x="1893.90" y="365.30" width="30.20" height="132.40" fill="#9796cb"/>
<rect x="1893.90" y="373.57" width="30.20" height="124.13" fill="#8c8cc5"/>
<rect x="1893.90" y="381.85" width="30.20" height="115.85" fill="#8383c0"/>
<rect x="1893.90" y="390.12" width="30.20" height="107.57" fill="#797bbc"/>
<rect x="1893.90" y="398.40" width="30.20" height="99.30" fill="#7072b7"/>
<rect x="1893.90" y="406.67" width="30.20" height="91.03" fill="#696db4"/>
<rect x="1893.90" y="414.95" width="30.20" height="82.75" fill="#6169b1"/>
<rect x="1893.90" y="423.22" width="30.20" height="74.48" fill="#5a64ae"/>
<rect x="1893.90" y="431.50" width="30.20" height="66.20" fill="#5561ac"/>
<rect x="1893.90" y="439.77" width="30.20" height="57.93" fill="#505eaa"/>
<rect x="1893.90" y="448.05" width="30.20" height="49.65" fill="#4b5ba8"/>
<rect x="1893.90" y="456.32" width="30.20" height="41.38" fill="#4859a7"/>
<rect x="1893.90" y="464.60" width="30.20" height="33.10" fill="#4457a6"/>
<rect x="1893.90" y="472.87" width="30.20" height="24.83" fill="#4155a5"/>
<rect x="1893.90" y="481.15" width="30.20" height="16.55" fill="#4054a4"/>
<rect x="1893.90" y="489.42" width="30.20" height="8.28" fill="#3e53a4"/>
<rect x="1893.90" y="67.40" width="30.20" height="430.30" fill="none" stroke="#000" stroke-width="2.00"/>
<text transform="translate(1937.50 80.48) scale(0.9500 1)" font-size="12.8" stroke="#000" stroke-width="0.35">1.000E+00</text>
<text transform="translate(1937.50 163.23) scale(0.9500 1)" font-size="12.8" stroke="#000" stroke-width="0.35">3.466E-01</text>
<text transform="translate(1937.50 245.97) scale(0.9500 1)" font-size="12.8" stroke="#000" stroke-width="0.35">1.201E-01</text>
<text transform="translate(1937.50 328.72) scale(0.9500 1)" font-size="12.8" stroke="#000" stroke-width="0.35">4.163E-02</text>
<text transform="translate(1937.50 411.47) scale(0.9500 1)" font-size="12.8" stroke="#000" stroke-width="0.35">1.443E-02</text>
<text transform="translate(1937.50 494.22) scale(0.9500 1)" font-size="12.8" stroke="#000" stroke-width="0.35">5.000E-03</text>
<path d="M1924.10 75.68h8M1924.10 158.43h8M1924.10 241.17h8M1924.10 323.92h8M1924.10 406.67h8M1924.10 489.42h8" stroke="#000" stroke-width="2.00" fill="none"/>
<text transform="translate(1982.40 52.60) scale(1.0120 1)" font-size="22.2" text-anchor="end" stroke="#000" stroke-width="0.50">Normalized PL</text></g>
</svg></body></html>
